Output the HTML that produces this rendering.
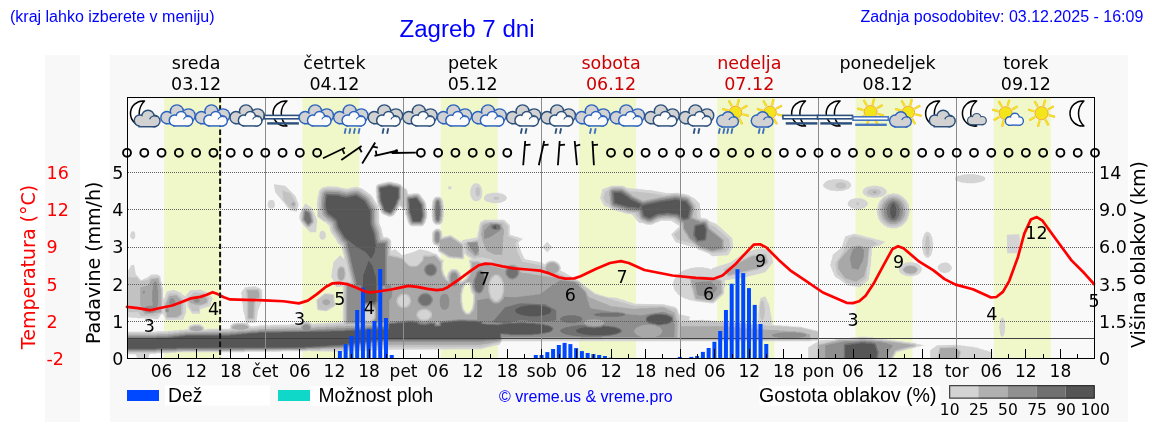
<!DOCTYPE html>
<html><head><meta charset="utf-8"><title>Zagreb 7 dni</title>
<style>
html,body{margin:0;padding:0;background:#fff;width:1152px;height:443px;overflow:hidden}
svg{display:block}
.dv{font-family:"DejaVu Sans",sans-serif}
.ls{font-family:"Liberation Sans",Arial,sans-serif}
</style></head><body>
<svg width="1152" height="443" viewBox="0 0 1152 443">
<defs><clipPath id="plotclip"><rect x="127" y="160" width="968" height="199"/></clipPath></defs>
<rect x="0" y="0" width="1152" height="443" fill="#ffffff"/>
<rect x="45" y="55" width="35" height="367" fill="#f8f8f8"/>
<rect x="110" y="55" width="1018" height="367" fill="#f8f8f8"/>
<rect x="127" y="97" width="968" height="262" fill="#f9f9f9"/>
<rect x="164.1" y="97" width="57" height="262" fill="#f0f8c9"/>
<rect x="302.39" y="97" width="57" height="262" fill="#f0f8c9"/>
<rect x="440.67" y="97" width="57" height="262" fill="#f0f8c9"/>
<rect x="578.96" y="97" width="57" height="262" fill="#f0f8c9"/>
<rect x="717.24" y="97" width="57" height="262" fill="#f0f8c9"/>
<rect x="855.53" y="97" width="57" height="262" fill="#f0f8c9"/>
<rect x="993.81" y="97" width="57" height="262" fill="#f0f8c9"/>
<g clip-path="url(#plotclip)"><path fill="#d4d4d4" fill-rule="evenodd" d="M930.2 350.2 930.2 358.8 992.2 358.8 992.2 352.2 989.8 351.8 986.2 350.2 984.8 350.2 982.8 349.2 981.2 349.2 977.8 347.8 973.8 347.2 973.2 346.8 969.8 346.8 969.2 346.2 965.8 346.2 965.2 345.8 961.8 345.8 961.2 345.2 957.8 345.2 957.2 344.8 937.2 345.2ZM808.2 358.8 893.2 358.8 896.2 352.8 897.8 351.8 899.2 351.8 899.8 351.2 901.2 351.2 901.8 350.8 903.2 350.8 903.8 350.2 905.2 350.2 905.8 349.8 907.2 349.8 907.8 349.2 915.2 347.8 916.8 346.8 918.8 346.8 919.2 346.2 921.2 346.2 921.8 345.8 925.2 345.2 920.8 344.8 920.2 344.2 917.2 344.2 916.2 343.2 914.8 343.2 914.2 342.8 910.8 342.8 910.2 342.2 903.2 341.8 902.8 341.2 895.8 340.8 895.2 340.2 891.8 340.2 891.2 339.8 887.8 339.8 887.2 339.2 883.8 339.2 883.2 338.8 877.8 338.8 875.8 337.8 873.2 337.8 872.8 337.2 867.2 337.2 866.8 336.8 858.8 336.8 858.2 337.2 850.2 337.8 849.8 338.2 838.2 338.2 837.8 338.8 836.2 338.8 833.8 339.8 820.2 340.2 808.2 347.2ZM1002.2 317.2 1000.2 319.8 1000.2 320.8 999.8 321.2 999.8 325.2 999.2 325.8 999.2 328.8 999.8 329.2 999.8 332.8 1000.2 333.2 1000.2 334.8 1002.2 337.2 1004.2 334.8 1004.2 333.2 1004.8 332.8 1004.8 329.2 1005.2 328.8 1004.8 321.2 1003.8 318.8ZM186.2 302.2 186.8 302.8 186.8 304.8 186.2 305.2 185.8 304.8 185.8 302.8ZM334.2 294.8 331.8 293.8 324.8 293.2 316.2 299.8 317.2 309.8 317.8 310.2 319.8 310.2 320.2 310.8 326.8 311.2 334.2 306.8 335.2 305.8ZM466.8 283.8 468.8 283.8 469.8 284.8 469.8 287.8 470.2 288.2 470.8 291.2 471.8 293.2 473.2 294.8 473.2 302.2 472.8 302.8 472.8 305.2 472.2 305.8 472.2 307.2 471.2 309.8 468.8 312.8 466.8 312.8 464.2 309.8 463.2 307.2 463.2 305.8 462.8 305.2 462.8 302.8 462.2 302.2 462.2 293.8 462.8 293.2 462.8 291.2 463.2 290.8 463.2 289.2 464.2 287.8 464.2 286.8ZM461.2 280.8 461.8 280.2 462.2 280.8 461.8 281.2ZM127.2 272.2 127.2 317.2 130.2 317.2 130.8 317.8 136.8 317.8 137.2 318.2 144.8 318.2 145.2 318.8 153.8 318.8 154.2 319.2 158.2 319.2 160.8 314.8 162.8 313.8 166.2 320.2 183.2 319.8 184.2 317.8 184.2 316.8 185.2 315.2 185.2 314.2 186.2 312.8 186.2 305.2 186.8 304.8 187.8 307.2 192.2 313.8 200.2 313.8 200.2 309.8 201.2 308.8 202.8 308.8 206.2 307.2 209.2 306.8 210.2 306.2 210.8 305.2 211.2 302.2 212.8 298.2 207.2 292.2 200.8 289.8 190.2 290.2 185.2 296.2 182.8 294.8 180.2 292.2 178.2 291.8 176.8 290.8 172.8 289.8 172.2 290.2 167.2 291.2 165.2 295.2 165.2 296.2 163.8 298.8 163.2 298.2 163.2 288.8 162.8 288.2 162.8 286.8 162.2 286.2 162.2 284.8 161.8 284.2 161.8 282.8 160.8 280.2 160.8 277.8 159.8 275.8 156.8 274.2 150.8 274.8 147.8 277.2 141.2 280.2 135.8 274.2 134.2 264.8 131.2 265.2 130.8 265.8 129.8 268.2 128.8 269.2ZM944.8 262.2 944.2 262.8 940.8 263.2 938.2 265.8 937.8 266.8 937.8 268.8 940.8 272.2 945.2 273.2 945.8 272.8 948.8 272.2 951.2 269.8 951.8 268.8 951.8 266.8 948.8 263.2ZM898.8 267.8 898.8 270.2 899.2 270.8 899.2 271.8 901.8 274.2 907.2 276.2 913.2 276.2 913.8 275.8 916.8 275.2 919.2 273.8 921.2 271.8 921.2 270.8 921.8 270.2 921.8 267.8 919.2 264.8 916.8 263.2 913.8 262.8 913.2 262.2 907.2 262.2 906.8 262.8 905.2 262.8 903.8 263.8 901.8 264.2ZM770.2 250.2 759.8 248.2 759.2 248.8 753.8 249.8 751.8 250.8 746.2 251.8 731.2 261.8 729.2 262.8 712.2 268.2 711.8 269.2 710.8 269.2 708.8 268.2 704.2 267.8 703.8 267.2 695.2 267.2 694.8 267.8 691.8 267.8 691.2 268.2 689.8 268.2 689.2 268.8 685.2 269.8 681.2 271.8 677.8 274.2 674.8 278.2 673.2 282.2 673.2 286.2 673.8 286.8 673.8 288.2 675.2 291.2 676.2 291.8 677.8 294.2 681.2 296.8 685.2 298.8 686.2 298.8 689.8 300.2 694.2 300.8 694.8 301.2 696.8 301.2 697.2 301.8 700.8 301.8 701.2 302.2 704.8 302.2 705.2 302.8 708.8 302.8 709.2 303.2 713.8 303.2 724.2 293.8 724.2 288.8 725.2 286.2 725.2 282.2 724.8 281.8 724.8 280.8 725.2 280.2 730.2 279.8 730.8 279.2 733.2 279.2 733.8 278.8 736.8 278.8 737.2 278.2 740.2 278.2 740.8 277.8 743.2 277.8 743.8 277.2 746.2 277.2 746.8 276.8 748.2 276.8 748.8 276.2 750.2 276.2 750.8 275.8 752.2 275.8 752.8 275.2 754.2 275.2 754.8 274.8 756.2 274.8 756.8 274.2 758.2 274.2 758.8 273.8 760.2 273.8 760.8 273.2 762.2 273.2 762.8 272.8 765.2 272.2 773.2 262.2ZM547.2 241.8 542.2 247.2 547.2 252.2 552.2 247.2ZM1019.2 234.2 1006.8 234.8 1007.2 253.2 1018.2 253.2 1018.8 248.8 1019.2 248.2 1019.2 245.2 1019.8 244.8 1019.8 242.2 1020.2 241.8 1020.2 239.2 1019.8 238.8ZM853.8 233.8 853.2 234.2 851.8 234.2 849.8 235.2 848.2 235.2 847.8 235.8 845.2 236.2 841.8 247.2 832.8 254.8 831.8 259.8 831.2 260.2 831.2 261.8 830.8 262.2 830.8 263.8 830.2 264.2 830.2 265.8 831.2 267.2 831.2 268.2 832.2 269.8 832.2 270.8 833.8 273.2 833.8 274.2 834.8 276.2 837.2 278.2 839.2 279.2 847.2 285.2 859.8 287.2 868.8 279.8 869.2 274.8 869.8 274.2 869.8 270.8 870.2 270.2 870.2 267.2 870.8 266.8 870.8 262.2 871.2 261.8 871.2 256.2 871.8 255.8 871.8 250.2 872.2 249.8 872.2 247.8 873.8 246.8 875.8 246.8 876.2 246.2 879.8 245.8 885.2 241.8 882.8 241.2 882.2 240.8 880.8 240.8 878.8 239.8 875.2 239.2 873.2 238.2 871.8 238.2 871.2 237.8 869.8 237.8 869.2 237.2 867.8 237.2 867.2 236.8 865.8 236.8 865.2 236.2 863.8 236.2 863.2 235.8 861.8 235.8 861.2 235.2ZM926.8 231.8 924.2 233.8 924.2 234.8 922.8 237.8 922.8 239.2 922.2 239.8 922.2 249.8 922.8 250.2 923.2 253.2 924.8 256.2 926.8 257.8 928.8 257.8 928.8 257.2 930.8 255.8 932.2 252.2 932.2 250.8 932.8 250.2 932.8 246.8 933.2 246.2 933.2 242.8 932.8 242.2 932.2 237.2 931.2 235.8 930.8 233.8 929.2 232.8 928.8 231.8ZM132.2 231.2 130.8 232.8 130.8 233.8 130.2 234.2 130.2 236.8 132.2 239.2 133.8 239.2 135.2 237.2 135.2 233.2 133.8 231.2ZM321.8 230.8 320.8 231.2 319.8 232.8 319.2 236.2 320.8 239.2 323.2 239.8 324.2 239.2 325.8 237.2 325.8 233.8 324.2 231.2ZM378.2 207.2 378.8 206.8 379.2 207.8 378.8 208.2ZM377.2 204.8 377.8 204.2 378.2 204.8 377.8 205.2ZM376.8 203.8 377.2 203.2 377.8 203.8 377.2 204.2ZM305.2 203.2 303.2 207.2 301.2 209.8 301.2 210.8 299.8 213.8 299.2 218.2 300.2 219.8 300.8 221.8 302.8 224.8 310.2 232.2 316.2 232.2 317.2 219.8 315.8 217.2 315.8 216.2 314.8 214.8 314.8 213.8 313.2 211.2 313.2 210.2 312.2 208.2ZM270.8 199.8 270.2 200.2 269.2 200.2 268.2 201.2 267.8 203.8 267.2 204.2 267.8 204.8 267.8 206.8 269.2 208.2 271.8 208.8 272.2 208.2 273.2 208.2 274.8 206.8 274.8 204.8 275.2 204.2 274.8 203.8 274.2 201.2 273.2 200.2ZM847.8 202.8 847.8 204.8 848.2 205.8 851.8 208.2 855.2 208.8 855.8 209.2 859.8 209.2 860.2 208.8 861.8 208.8 862.2 208.2 864.8 207.8 866.8 205.8 867.2 205.8 867.8 204.8 867.8 202.8 867.2 201.8 864.2 199.2 863.2 199.2 861.2 198.2 854.2 198.2 853.8 198.8 851.2 199.2 849.2 200.8ZM435.8 196.8 433.8 198.2 432.2 201.8 432.2 204.2 431.8 204.8 431.8 217.2 432.2 217.8 432.2 220.2 433.8 223.2 435.8 224.8 439.8 224.8 441.8 223.2 443.2 220.2 443.2 217.8 443.8 217.2 443.8 204.8 443.2 204.2 443.2 201.8 441.8 198.2 439.8 196.8ZM883.8 195.8 884.2 195.2 884.8 195.8 884.2 196.2ZM483.8 197.2 484.2 199.8 486.8 201.8 489.8 202.2 490.2 202.8 492.8 202.8 493.2 203.2 500.8 202.8 505.2 200.8 506.8 198.8 506.8 197.2 504.8 194.8 503.8 194.8 502.8 193.8 499.2 193.2 498.8 192.8 491.8 192.8 491.2 193.2 487.8 193.8 485.8 194.8ZM448.8 186.2 447.8 188.2 448.8 189.2 450.8 189.2 451.8 188.2 451.2 186.8 450.8 186.2ZM863.2 189.8 862.8 190.8 862.8 192.8 863.2 193.8 865.2 195.8 866.2 195.8 867.2 196.8 871.2 197.2 871.8 197.8 877.8 197.8 878.2 197.2 881.8 196.8 883.2 195.8 884.2 196.2 879.8 200.8 877.8 204.8 877.2 208.2 876.8 208.8 876.8 212.8 877.2 213.2 877.2 215.2 877.8 215.8 878.2 218.2 880.2 221.8 884.2 225.8 885.8 226.2 886.8 227.2 889.8 227.8 890.2 228.2 896.8 228.2 902.2 225.8 906.2 221.8 908.2 218.2 908.2 217.2 909.2 215.2 909.2 213.2 909.8 212.8 909.8 208.8 909.2 208.2 908.8 204.8 906.8 200.8 903.8 197.8 903.8 197.2 898.8 194.2 897.8 194.2 897.2 193.8 894.8 193.8 894.2 193.2 892.2 193.2 891.8 193.8 887.8 194.2 885.8 195.8 884.8 195.8 884.2 195.2 885.8 194.2 886.8 192.2 886.8 191.2 885.8 189.2 881.8 186.8 878.2 186.2 877.8 185.8 871.8 185.8 871.2 186.2 867.2 186.8 866.2 187.8 865.2 187.8ZM602.2 189.2 601.2 194.2 600.8 194.8 600.8 196.2 600.2 196.8 600.2 198.2 604.2 205.8 606.2 206.8 607.2 206.8 610.2 208.2 611.2 209.2 613.8 210.2 615.2 210.2 617.2 211.2 618.8 211.2 619.2 211.8 622.2 212.2 626.2 213.8 631.8 214.2 638.8 222.8 643.2 223.2 646.8 224.8 651.8 224.8 655.8 222.8 659.2 221.8 660.8 220.8 671.2 220.8 679.8 226.2 671.2 234.2 675.2 241.8 676.8 242.8 678.2 242.8 680.2 243.8 681.8 243.8 683.8 244.8 685.2 244.8 687.2 245.8 688.8 245.8 690.8 246.8 695.8 247.8 699.2 250.2 700.2 250.2 708.2 253.2 712.2 256.2 728.2 255.2 733.2 246.2 732.2 238.2 719.2 226.2 718.8 226.2 716.2 223.8 709.8 221.2 706.8 218.8 705.8 218.8 705.2 218.2 701.8 218.2 700.8 217.2 699.8 203.8 693.8 197.8 691.8 197.2 689.2 195.2 688.2 195.2 686.2 194.2 679.2 193.2 678.8 192.8 666.2 193.2 665.8 192.8 663.8 192.8 663.2 192.2 661.2 192.2 660.8 191.8 658.2 191.8 657.8 191.2 655.8 191.2 655.2 190.8 652.8 190.8 652.2 190.2 643.8 189.8 643.2 189.2 638.8 189.2 638.2 188.8 633.8 188.8 633.2 188.2 628.8 188.2 628.2 187.8 626.2 187.8 625.2 186.8 622.8 185.8 611.8 185.8ZM273.8 184.2 275.2 192.2 286.2 205.8 286.2 206.2 288.8 208.8 288.8 209.2 289.8 210.2 290.8 210.2 291.2 210.8 293.2 210.8 293.8 211.2 296.8 211.8 298.8 204.2 297.8 202.8 297.8 201.8 296.8 200.2 296.8 199.2 295.2 195.8 285.2 185.8ZM475.2 183.2 473.2 184.2 471.2 186.8 471.2 187.8 470.2 189.8 470.2 194.8 471.8 198.8 473.2 200.2 475.2 201.2 477.2 201.2 479.2 200.2 480.8 198.8 481.8 196.8 481.8 195.2 482.2 194.8 482.2 189.8 481.8 189.2 481.2 186.8 479.2 184.2 477.2 183.2ZM127.2 354.2 135.2 354.2 136.2 355.2 137.2 358.8 148.2 358.8 148.8 355.8 149.8 353.8 156.2 353.8 156.8 353.2 168.8 353.2 169.2 352.8 176.2 352.8 176.8 352.2 244.2 352.2 244.8 351.8 280.8 351.8 281.2 351.2 306.8 351.2 307.2 350.8 310.2 350.8 310.8 351.2 345.8 351.8 346.2 351.2 368.2 350.8 368.8 350.2 379.2 350.2 379.8 349.8 481.2 349.2 481.8 348.8 483.2 348.8 483.8 348.2 485.2 348.2 485.8 347.8 487.2 347.8 487.8 347.2 489.2 347.2 489.8 346.8 491.2 346.8 491.8 346.2 499.2 344.8 500.2 344.2 500.2 343.2 502.2 341.2 811.2 341.2 811.8 340.8 817.2 340.8 818.2 340.2 818.8 339.2 818.8 332.2 818.2 331.2 815.8 330.2 814.2 330.2 813.8 329.8 812.2 329.8 809.8 328.8 807.8 328.8 807.2 328.2 805.8 328.2 805.2 327.8 803.8 327.8 801.2 326.8 789.2 326.2 788.8 325.8 781.8 325.8 781.2 325.2 774.2 325.2 773.8 324.8 772.2 324.8 771.8 324.2 772.2 323.2 772.2 321.2 771.8 320.8 771.2 315.2 770.8 314.8 770.8 312.8 770.2 312.2 769.8 306.8 769.2 306.2 769.2 304.8 767.2 301.2 767.2 300.2 765.2 296.2 760.2 298.2 760.2 300.2 759.8 300.8 759.2 305.2 758.8 305.8 758.8 312.8 758.2 313.2 758.2 319.8 757.8 320.2 757.8 323.8 757.2 324.2 755.8 324.2 755.2 323.8 747.8 323.8 747.2 323.2 741.8 323.2 741.2 322.8 730.2 322.2 729.8 321.8 724.2 321.8 723.8 321.2 717.2 321.2 716.8 320.8 710.8 320.8 710.2 320.2 703.8 320.2 703.2 319.8 689.8 320.2 689.2 319.8 689.2 318.8 690.2 316.8 679.2 314.2 677.2 308.8 674.8 306.8 673.8 306.8 673.2 306.2 669.2 305.8 668.8 305.2 666.8 305.2 664.2 304.2 634.8 303.8 634.2 303.2 633.2 303.2 631.2 302.2 629.8 302.2 629.2 301.8 628.2 301.8 621.8 299.2 620.2 299.2 616.8 297.8 607.8 297.2 607.2 296.8 605.8 296.8 605.2 296.2 604.2 296.2 602.2 295.2 600.8 295.2 597.2 293.8 595.8 293.8 581.8 283.2 579.2 280.8 575.8 279.2 574.8 278.2 572.2 277.2 571.2 276.2 566.2 273.8 565.2 272.8 560.8 270.8 560.2 270.2 560.8 269.2 560.8 267.2 559.2 263.8 555.8 261.2 554.8 261.2 554.2 260.8 550.2 260.8 546.8 262.2 544.8 264.2 540.8 262.2 525.2 259.2 524.2 258.2 520.8 251.2 520.8 250.2 519.2 246.8 519.2 245.2 518.2 243.2 519.2 241.8 523.2 238.8 520.8 238.2 517.2 236.8 515.8 236.8 512.2 235.2 510.8 235.2 509.8 234.2 509.8 225.2 504.2 219.8 484.2 219.8 482.2 221.2 480.8 221.8 479.8 223.2 477.2 236.8 475.8 237.8 473.8 237.8 473.2 238.2 471.2 238.2 470.8 238.8 463.8 239.8 463.2 240.2 462.2 240.2 462.2 241.2 461.8 241.8 460.8 241.8 451.2 235.2 448.8 235.2 448.2 235.8 444.8 236.2 442.8 237.2 442.2 236.8 442.2 232.8 441.8 232.2 441.8 231.2 439.2 228.8 435.8 228.8 432.8 231.2 432.8 232.2 432.2 232.8 432.2 241.8 432.8 242.2 432.8 243.2 434.8 245.2 437.2 245.8 437.8 246.2 438.2 251.2 439.8 252.8 441.2 253.2 442.2 254.2 443.8 254.8 444.8 255.8 449.2 258.2 452.2 258.2 452.8 258.8 458.2 258.8 458.8 259.2 463.2 259.2 464.2 258.2 464.2 254.2 464.8 253.8 465.8 255.2 471.8 259.2 471.2 259.8 468.8 259.8 469.2 262.8 469.8 263.2 469.8 269.2 469.2 269.8 468.8 273.2 465.8 278.2 462.8 280.8 461.8 280.2 461.8 279.2 461.2 278.8 461.2 276.2 460.8 275.8 460.2 272.8 456.8 269.2 455.2 269.2 454.8 268.8 451.2 269.2 448.2 272.2 447.2 274.8 447.2 276.2 446.2 277.2 443.8 273.2 443.8 271.8 442.8 269.2 442.8 263.2 443.2 262.8 443.8 259.8 441.8 259.8 436.2 253.8 434.8 253.8 427.2 250.8 419.8 249.2 414.2 251.8 402.2 255.2 395.2 249.2 391.8 250.8 391.2 250.2 391.2 241.2 390.2 239.2 387.2 237.2 383.8 237.2 382.8 235.2 382.8 233.2 382.2 232.8 381.8 229.2 379.2 222.8 379.2 210.8 378.8 210.2 378.8 208.8 379.2 208.2 379.8 208.8 381.2 212.8 382.8 214.2 388.8 216.8 391.2 216.8 391.8 216.2 392.8 216.2 394.8 214.2 397.8 209.8 398.8 207.2 400.2 206.2 402.2 208.2 404.8 209.8 405.2 210.8 405.2 214.2 405.8 214.8 407.8 221.8 409.2 224.8 411.8 226.2 421.8 226.2 423.8 225.2 425.8 221.8 425.8 220.8 427.2 217.2 427.2 211.8 426.8 211.2 426.2 203.8 424.8 200.8 419.8 194.2 417.8 193.2 413.2 193.2 412.8 193.8 409.8 193.8 408.8 194.2 407.8 193.2 407.2 189.8 404.8 187.8 403.2 187.2 400.8 184.2 399.8 184.2 397.8 183.2 396.2 183.2 395.8 182.8 391.8 182.2 391.2 181.8 387.2 181.8 386.8 182.2 382.8 182.8 382.2 183.2 380.8 183.2 380.2 183.8 377.8 184.2 376.2 185.8 376.2 186.8 375.8 187.2 375.8 192.2 376.2 192.8 376.2 198.2 376.8 198.8 376.8 201.8 377.2 202.2 377.2 203.2 376.8 203.8 373.8 199.2 373.2 197.8 370.2 194.2 361.8 188.2 359.2 187.8 358.8 187.2 355.2 186.8 354.8 187.2 352.8 187.2 352.2 187.8 350.2 187.8 349.8 188.2 345.8 188.8 345.2 188.2 343.2 188.2 342.8 187.8 338.8 187.2 338.2 186.8 327.2 186.2 326.8 186.8 322.8 187.2 320.8 188.8 318.8 191.2 318.2 195.2 317.8 195.8 317.8 197.8 317.2 198.2 317.2 202.8 316.8 203.2 316.8 206.2 317.2 206.8 317.2 216.8 323.8 221.8 325.2 222.2 329.2 225.8 330.2 230.8 331.2 232.8 335.8 239.2 337.2 242.2 338.8 244.2 341.8 246.8 342.2 250.8 342.8 251.2 342.8 252.8 343.8 255.2 343.8 257.2 344.2 257.8 343.8 258.8 340.2 255.2 333.2 262.2 332.8 267.2 332.2 267.8 332.2 270.8 331.8 271.2 331.8 274.2 331.2 274.8 331.2 276.8 333.8 281.2 333.8 282.2 336.2 287.2 341.2 286.8 341.8 286.2 342.8 286.8 342.8 321.8 342.2 322.2 335.8 322.2 335.2 322.8 325.8 322.8 325.2 323.2 315.8 323.2 315.2 323.8 311.8 323.8 308.8 321.8 303.8 321.8 301.8 322.8 300.2 324.2 290.8 324.2 290.2 324.8 271.2 324.8 270.8 325.2 259.2 325.2 258.8 325.8 250.8 326.2 247.8 323.8 249.2 322.8 253.8 322.8 254.2 322.2 256.2 322.2 258.2 309.8 259.2 308.2 259.2 307.2 262.2 300.8 262.2 290.2 259.2 287.8 257.8 287.8 255.2 286.2 253.2 286.2 252.8 286.8 248.2 286.8 247.8 287.2 245.2 287.2 241.2 292.2 241.2 294.2 241.8 294.8 241.8 298.8 242.2 299.2 242.2 303.2 242.8 303.8 242.8 307.8 243.2 308.2 243.2 311.2 243.8 311.8 243.8 313.2 244.8 315.8 244.8 317.8 245.2 318.2 245.2 319.8 246.2 322.2 245.8 323.2 244.8 322.8 235.8 322.8 235.2 323.2 233.8 323.2 231.8 324.2 230.2 325.8 230.2 327.8 229.2 328.8 207.8 328.8 207.2 329.2 204.8 329.2 204.2 328.8 204.2 327.2 201.2 324.8 200.2 324.8 199.8 324.2 193.2 324.2 192.8 324.8 190.2 325.2 188.2 327.2 188.2 328.8 187.8 329.2 184.8 329.2 184.2 329.8 179.2 329.8 178.8 330.2 173.8 330.2 173.2 330.8 168.2 330.8 167.8 331.2 156.8 331.2 156.2 331.8 127.2 331.8ZM823.2 184.2 823.2 186.2 825.8 188.8 826.8 188.8 827.8 189.8 829.2 189.8 831.2 190.8 835.2 190.8 835.8 191.2 843.2 190.8 848.8 188.8 851.2 186.2 851.2 184.2 849.2 181.8 846.2 180.2 844.8 180.2 842.2 179.2 832.2 179.2 831.8 179.8 828.2 180.2 826.2 181.2ZM955.2 177.8 955.2 179.8 957.2 181.2 959.8 181.8 960.2 182.2 961.8 182.2 962.2 182.8 965.2 182.8 965.8 183.2 975.2 183.2 975.8 182.8 978.2 182.8 978.8 182.2 980.2 182.2 980.8 181.8 983.2 181.2 985.2 179.8 985.2 177.8 983.2 176.2 982.2 176.2 980.2 175.2 978.8 175.2 978.2 174.8 975.8 174.8 975.2 174.2 965.8 174.2 965.2 174.8 962.2 174.8 961.8 175.2 958.2 175.8Z"/>
<path fill="#c2c2c2" fill-rule="evenodd" d="M939.2 347.8 937.2 358.8 959.2 358.8 959.8 358.2 960.2 355.2 961.2 353.2 961.2 351.8 955.8 346.8 947.8 346.8 947.2 347.2 939.8 347.2ZM817.2 358.8 892.2 358.8 895.2 352.2 896.2 351.2 898.8 350.8 899.2 350.2 900.8 350.2 901.2 349.8 902.8 349.8 903.2 349.2 904.8 349.2 905.2 348.8 906.8 348.8 907.2 348.2 908.8 348.2 909.2 347.8 910.8 347.8 911.2 347.2 912.8 347.2 913.2 346.8 914.8 346.8 916.2 345.8 916.2 344.8 913.8 343.8 910.2 343.8 909.8 343.2 902.8 342.8 902.2 342.2 895.2 341.8 894.8 341.2 891.2 341.2 890.8 340.8 887.2 340.8 886.8 340.2 883.2 340.2 882.8 339.8 877.2 339.8 876.8 339.2 874.8 339.2 874.2 338.8 871.8 338.8 871.2 338.2 865.8 338.2 865.2 337.8 860.2 337.8 859.8 338.2 851.8 338.8 851.2 339.2 838.8 339.2 838.2 339.8 836.8 339.8 834.2 340.8 832.2 340.8 829.8 341.8 827.8 341.8 827.2 342.2 825.8 342.2 825.2 342.8 817.8 344.2 817.2 344.8ZM417.8 313.8 420.2 311.2 422.2 310.2 426.2 310.2 428.2 311.2 430.8 313.8 430.8 315.8 427.8 318.8 426.8 319.2 424.8 319.2 424.2 319.8 423.8 319.2 421.8 319.2 420.8 318.8 417.8 315.8ZM367.2 306.2 370.2 306.2 371.2 306.8 373.2 308.8 374.2 311.2 374.2 316.2 373.8 316.8 373.8 317.8 373.2 318.8 370.2 321.2 367.2 321.2 364.2 318.8 363.2 316.2 363.2 311.2 363.8 310.8 363.8 309.8 364.2 308.8ZM761.8 300.2 760.2 303.2 760.2 305.8 759.8 306.2 759.8 314.2 760.2 314.8 760.2 317.2 761.2 318.8 761.2 319.8 761.8 320.2 762.8 320.2 763.8 318.8 763.8 317.8 764.2 317.2 764.2 314.8 764.8 314.2 764.8 306.2 764.2 305.8 764.2 303.2 763.8 302.8 763.8 301.8 762.8 300.2ZM403.2 294.8 406.2 295.2 409.2 298.2 409.2 299.8 409.8 300.2 409.2 303.2 406.2 306.2 404.8 306.2 404.2 306.8 401.2 306.2 398.2 303.2 398.2 302.2 397.8 301.8 398.2 298.8 401.8 295.2 402.8 295.2ZM333.2 295.2 325.2 294.2 317.2 300.2 317.2 302.2 317.8 302.8 317.8 306.8 318.2 307.2 318.2 309.2 326.2 310.2 334.2 305.2 334.2 303.2 333.8 302.8ZM169.2 293.2 166.2 299.2 166.2 300.2 164.2 303.8 164.8 312.2 165.8 314.2 165.8 316.8 166.2 317.2 166.2 318.2 178.2 318.2 183.2 314.2 183.2 299.2 177.2 293.8ZM194.2 292.2 188.2 297.2 188.2 302.2 189.2 303.8 189.2 305.8 192.2 311.2 199.2 311.2 199.2 306.8 200.8 305.8 202.2 305.8 202.8 305.2 204.2 305.2 204.8 304.8 207.2 304.2 208.2 302.2 208.2 300.8 209.2 298.2 204.2 293.2ZM247.2 288.8 246.2 289.2 245.8 290.2 245.8 292.2 246.2 292.8 246.2 296.8 246.8 297.2 246.8 318.2 247.2 319.2 248.2 319.8 253.2 319.8 254.2 319.2 254.8 318.2 255.8 300.2 260.2 298.2 260.8 297.2 260.2 292.2 259.8 291.8 259.2 289.2 258.2 288.8ZM466.2 282.8 469.2 282.8 470.8 284.2 471.2 285.2 471.2 288.8 471.8 289.2 471.8 290.2 473.2 293.2 474.2 294.2 474.2 302.8 473.8 303.2 473.2 307.8 472.2 310.2 469.2 313.8 466.2 313.8 463.2 310.2 462.2 307.8 462.2 306.2 461.8 305.8 461.8 303.2 461.2 302.8 461.2 293.2 461.8 292.8 461.8 290.8 462.2 290.2 462.2 288.8 463.2 287.2 463.2 286.2ZM127.2 277.2 127.2 312.2 138.2 312.2 141.2 316.2 156.2 316.2 158.8 313.8 162.2 313.2 162.2 288.8 161.8 288.2 161.8 286.8 161.2 286.2 161.2 284.8 160.8 284.2 160.8 282.8 160.2 282.2 159.2 277.2 151.2 277.2 147.2 280.2 142.2 280.8 141.8 281.2 140.2 281.2 136.8 277.2ZM690.2 277.8 689.2 279.8 689.8 280.2 691.2 287.8 692.2 289.8 693.8 297.2 694.8 299.2 696.2 300.2 712.2 302.2 715.8 299.8 719.8 295.8 720.2 295.8 723.2 292.2 722.2 281.2 721.8 280.2 720.2 279.2 716.8 278.8 716.2 278.2 714.2 278.2 713.8 277.8 711.8 277.8 711.2 277.2 709.2 277.2 708.8 276.8 706.8 276.8 706.2 276.2 695.2 276.8 694.8 277.2 691.2 277.2ZM495.2 275.8 497.2 275.8 500.8 279.2 502.8 284.8 502.8 291.8 502.2 292.2 502.2 293.8 501.8 294.2 501.2 296.8 497.2 300.8 495.2 300.8 491.2 296.8 491.2 295.8 490.2 293.8 490.2 292.2 489.8 291.8 489.8 284.8 490.2 284.2 490.8 281.2 491.8 279.2ZM339.8 266.2 337.2 269.2 337.2 271.2 336.8 271.8 336.8 275.8 337.2 276.2 337.2 278.2 337.8 279.2 339.8 281.2 342.8 281.2 345.2 278.2 345.2 276.2 345.8 275.8 345.8 271.8 345.2 271.2 345.2 269.2 344.8 268.2 342.8 266.2ZM902.2 269.2 902.2 270.2 905.8 273.8 909.2 274.2 909.8 274.8 913.2 274.2 915.8 273.2 918.2 270.2 918.2 269.2 915.8 266.2 913.2 265.2 911.2 265.2 910.8 264.8 905.8 265.8ZM768.8 261.8 767.2 257.8 767.2 256.2 766.2 254.2 765.2 253.8 752.2 254.8 724.8 268.8 723.8 270.2 726.8 275.8 728.2 276.8 729.2 276.8 729.8 276.2 731.2 276.2 731.8 275.8 733.2 275.8 733.8 275.2 735.2 275.2 735.8 274.8 737.2 274.8 737.8 274.2 739.2 274.2 739.8 273.8 741.2 273.8 743.8 272.8 745.8 272.8 748.2 271.8 750.2 271.8 750.8 271.2 758.2 269.8 767.8 263.8ZM853.8 236.2 848.8 238.2 843.2 251.8 835.8 262.8 835.2 264.8 835.8 265.2 835.8 267.2 836.2 267.8 836.8 272.8 837.2 273.2 837.2 274.2 838.8 275.8 839.2 275.8 847.2 282.8 858.2 284.2 866.2 278.2 869.8 247.8 870.8 246.8 877.8 243.8 873.2 240.8 870.8 239.8 866.8 239.2 864.2 238.2 862.2 238.2 859.8 237.2 857.8 237.2 857.2 236.8ZM927.2 235.2 926.2 236.8 925.8 240.2 925.2 240.8 925.2 249.2 925.8 249.8 925.8 252.2 926.2 252.8 926.2 253.8 926.8 254.8 927.8 255.2 928.8 254.2 929.2 250.8 929.8 250.2 929.8 240.2 929.2 239.8 928.8 236.2ZM433.8 231.8 433.8 232.8 433.2 233.2 433.2 241.2 433.8 241.8 433.8 242.8 435.2 244.2 436.2 244.8 438.2 244.8 438.8 245.2 439.2 250.8 440.2 251.8 441.8 252.2 442.8 253.2 444.2 253.8 445.2 254.8 449.8 257.2 452.8 257.2 453.2 257.8 458.8 257.8 459.2 258.2 462.8 258.2 463.2 257.8 463.2 244.8 462.2 243.8 450.8 236.2 449.2 236.2 448.8 236.8 445.2 237.2 443.2 238.2 441.8 238.2 441.2 237.8 441.2 233.2 440.8 232.8 440.8 231.8 438.8 229.8 436.2 229.8ZM303.8 208.2 302.2 209.8 302.2 211.2 301.8 211.8 301.2 220.8 306.8 227.2 309.8 227.2 314.2 222.8 314.2 219.2 313.8 218.8 312.8 213.2 312.2 212.8 312.2 211.8 310.2 209.8 307.2 208.2ZM856.8 202.2 856.2 202.8 856.2 204.2 857.2 205.2 858.2 205.2 858.2 204.8 859.2 204.2 859.2 203.2 858.2 202.2ZM435.8 197.8 433.8 200.2 433.8 201.2 433.2 201.8 433.2 204.2 432.8 204.8 432.8 217.2 433.2 217.8 433.2 220.2 434.2 222.2 435.8 223.8 439.8 223.8 441.2 222.2 442.2 220.2 442.2 217.8 442.8 217.2 442.8 204.8 442.2 204.2 442.2 201.8 441.2 199.2 439.8 197.8ZM493.2 198.2 493.2 198.8 494.8 199.8 497.8 199.8 499.2 198.8 498.8 197.2 497.8 196.8 494.8 196.8ZM891.8 195.2 891.2 195.8 889.2 195.8 886.2 197.8 885.2 197.8 883.2 199.2 881.2 201.8 881.2 202.8 879.8 204.8 879.2 207.8 878.8 208.2 878.8 213.8 880.8 219.2 884.8 223.8 889.8 226.2 896.2 226.2 896.8 225.8 898.2 225.8 900.2 224.2 901.2 224.2 905.8 219.2 907.8 213.8 907.8 208.2 907.2 207.8 906.8 204.8 903.8 199.8 903.2 199.8 901.2 197.8 897.2 195.8ZM282.2 190.2 282.2 192.2 282.8 192.8 282.8 196.8 283.2 197.2 283.2 199.2 289.2 207.2 295.2 209.2 296.2 203.2 293.8 198.8 292.8 197.8 292.2 196.2 291.2 195.2 290.8 193.8 288.2 192.2 287.2 192.2ZM866.8 192.2 867.2 193.2 869.8 195.2 871.8 195.2 872.2 195.8 878.2 195.2 880.8 193.2 880.8 191.2 879.2 189.8 878.2 189.2 876.2 189.2 875.8 188.8 869.8 189.2 868.2 190.2ZM127.2 352.8 156.2 352.8 156.8 352.2 170.8 352.2 171.2 351.8 181.8 351.8 182.2 351.2 244.8 351.2 245.2 350.8 281.2 350.8 281.8 350.2 320.2 350.2 320.8 349.8 344.8 349.8 345.2 349.2 353.8 349.2 354.2 348.8 362.8 348.8 363.2 348.2 371.8 348.2 372.2 347.8 380.8 347.8 381.2 347.2 481.2 347.2 481.8 346.8 483.2 346.8 483.8 346.2 485.2 346.2 485.8 345.8 487.2 345.8 487.8 345.2 489.2 345.2 489.8 344.8 491.2 344.8 491.8 344.2 499.2 342.8 500.2 342.2 502.8 339.2 579.2 339.2 579.8 339.8 602.8 339.8 603.2 339.2 677.8 339.2 678.8 338.8 679.8 340.2 810.8 340.2 811.2 339.8 817.2 339.8 817.8 339.2 817.8 332.2 815.8 331.2 814.2 331.2 813.8 330.8 812.2 330.8 809.8 329.8 807.8 329.8 807.2 329.2 805.8 329.2 805.2 328.8 803.8 328.8 801.2 327.8 796.8 327.8 796.2 327.2 789.2 327.2 788.8 326.8 781.8 326.8 781.2 326.2 774.2 326.2 773.8 325.8 765.8 325.8 765.2 325.2 747.8 324.8 747.2 324.2 741.8 324.2 741.2 323.8 730.2 323.2 729.8 322.8 724.2 322.8 723.8 322.2 717.2 322.2 716.8 321.8 710.8 321.8 710.2 321.2 703.8 321.2 703.2 320.8 685.8 321.2 685.2 321.8 680.2 321.8 679.8 322.2 679.2 321.8 679.2 317.8 678.8 317.2 676.2 309.2 675.2 308.8 671.8 308.2 669.8 307.2 668.2 307.2 667.8 306.8 666.2 306.8 663.8 305.8 633.8 305.8 633.2 305.2 629.8 304.8 627.8 303.8 626.2 303.8 624.2 302.8 620.8 302.2 618.8 301.2 615.2 300.8 611.8 299.2 610.2 299.2 609.8 298.8 608.8 298.8 606.8 297.8 605.2 297.8 601.8 296.2 600.2 296.2 596.8 294.8 595.2 294.8 581.2 284.2 578.8 281.2 570.8 279.2 567.2 277.2 566.2 277.2 562.8 275.2 561.8 275.2 557.2 272.8 558.2 272.2 559.8 269.2 559.8 267.2 558.2 264.2 554.2 261.8 550.2 261.8 547.2 263.2 546.2 264.2 544.8 267.2 540.8 265.2 539.2 265.2 538.8 264.8 536.8 264.8 536.2 264.2 534.2 264.2 533.8 263.8 531.8 263.8 531.2 263.2 529.2 263.2 528.8 262.8 526.8 262.8 526.2 262.2 522.2 261.8 517.2 251.8 516.2 246.8 515.8 246.2 515.8 244.8 515.2 244.2 515.2 243.2 518.2 240.2 516.2 239.2 513.8 238.8 512.2 237.8 509.8 237.2 507.8 235.8 507.8 226.2 503.2 221.8 485.2 221.8 482.2 223.2 481.2 224.8 481.2 225.8 480.2 227.8 478.8 238.8 477.8 239.8 476.2 239.8 475.8 240.2 474.2 240.2 471.8 241.2 467.8 241.2 465.8 242.8 463.8 243.2 466.8 253.8 473.8 258.2 475.8 258.2 476.2 257.8 483.2 257.2 483.8 257.8 491.2 259.2 492.2 259.8 493.2 261.2 492.8 261.8 488.2 261.8 487.8 262.2 480.8 262.2 478.2 260.8 470.2 260.8 470.2 262.2 470.8 262.8 470.8 269.8 470.2 270.2 469.8 273.8 466.8 278.8 465.2 280.2 460.8 283.2 459.8 282.8 460.2 281.8 459.8 274.8 459.2 274.2 459.2 273.2 456.2 270.2 451.8 270.2 449.2 272.8 448.2 275.2 448.2 279.8 447.2 280.2 445.8 278.8 442.8 273.8 442.8 272.2 441.8 269.8 441.8 262.8 442.2 262.2 442.2 260.8 440.8 260.8 437.2 256.8 437.2 256.2 435.2 254.8 431.8 254.8 431.2 255.2 424.2 255.2 423.8 255.8 422.8 255.8 422.8 258.8 422.2 259.2 422.2 260.2 417.2 265.2 416.2 265.2 415.8 265.8 411.2 265.8 410.8 265.2 409.2 265.2 404.2 260.2 403.8 257.8 402.2 257.8 401.8 257.2 400.2 257.2 397.8 256.2 395.8 256.2 395.2 255.8 391.8 255.2 389.8 254.2 389.8 241.2 388.8 239.8 387.2 238.8 382.2 238.8 381.2 237.2 381.2 234.8 380.8 234.2 380.2 230.2 377.2 222.2 377.2 209.8 376.8 209.2 376.8 207.2 373.8 202.8 373.2 201.2 372.2 200.2 371.8 198.8 369.2 195.8 359.8 189.2 357.8 189.2 357.2 188.8 354.2 188.8 353.8 189.2 351.8 189.2 351.2 189.8 349.2 189.8 348.8 190.2 344.2 190.2 343.8 189.8 339.8 189.2 339.2 188.8 326.2 188.2 325.8 188.8 323.8 188.8 321.8 190.2 320.2 192.2 320.2 194.2 319.8 194.8 319.8 196.8 319.2 197.2 319.2 201.8 318.8 202.2 318.8 207.2 319.2 207.8 319.2 208.8 318.2 209.2 318.2 216.2 324.2 220.8 326.8 221.2 330.8 224.8 331.8 229.8 332.8 231.8 337.2 238.2 338.8 241.2 340.2 243.2 342.8 245.2 343.2 248.2 343.8 248.8 343.8 250.8 344.2 251.2 344.2 252.8 345.2 255.2 345.2 257.2 346.2 259.8 346.2 261.8 346.8 262.2 346.8 263.8 347.8 266.2 347.8 268.2 348.2 268.8 348.2 270.2 348.8 270.8 348.8 272.2 349.2 272.8 349.2 274.2 349.8 274.8 349.8 276.2 350.2 276.8 350.2 278.2 351.2 280.8 351.2 281.8 350.8 282.2 345.8 282.2 344.2 283.8 344.2 323.8 343.8 324.2 335.8 324.2 335.2 324.8 325.8 324.8 325.2 325.2 315.8 325.2 315.2 325.8 312.2 325.8 310.2 323.8 308.2 322.8 304.2 322.8 302.2 323.8 300.2 326.2 290.8 326.2 290.2 326.8 271.2 326.8 270.8 327.2 258.8 327.2 258.2 327.8 249.8 328.2 249.2 327.8 249.2 326.2 246.2 324.2 244.8 324.2 244.2 323.8 236.2 323.8 232.2 325.2 231.2 326.2 231.2 328.2 232.2 329.2 229.8 330.2 207.8 330.2 207.2 330.8 203.2 330.8 202.8 330.2 203.2 329.8 203.2 327.8 200.8 325.8 199.8 325.8 199.2 325.2 193.8 325.2 193.2 325.8 190.8 326.2 189.2 327.8 189.2 329.8 189.8 330.2 189.2 330.8 179.2 331.2 178.8 331.8 173.8 331.8 173.2 332.2 168.2 332.2 167.8 332.8 156.8 332.8 156.2 333.2 127.2 333.2ZM603.2 197.8 605.8 202.8 608.8 204.2 610.8 207.2 613.2 208.8 614.8 208.8 615.2 209.2 618.2 209.8 620.2 210.8 621.8 210.8 623.8 211.8 627.8 212.2 628.2 212.8 631.2 212.8 631.8 213.2 634.8 213.2 640.2 220.2 646.2 223.2 648.2 223.2 648.8 223.8 652.2 223.2 660.2 219.2 664.8 219.2 665.2 218.8 673.8 219.2 680.8 224.2 681.8 226.2 681.8 227.8 674.2 234.2 676.8 238.8 678.2 239.8 679.8 239.8 681.8 240.8 683.2 240.8 685.2 241.8 686.8 241.8 688.8 242.8 691.8 243.2 694.8 245.2 696.8 247.2 700.2 249.2 701.2 249.2 710.8 252.8 712.8 252.8 713.2 253.2 716.2 253.2 716.8 252.8 722.8 252.8 723.2 252.2 726.2 252.2 730.2 246.2 729.2 239.2 720.2 231.2 719.8 231.2 716.2 227.8 714.2 226.2 710.2 224.8 709.2 223.8 708.8 222.2 706.2 219.8 704.2 219.8 703.8 219.2 700.8 219.8 699.2 218.8 698.2 218.8 697.2 217.8 697.2 216.2 696.8 215.8 696.8 209.2 696.2 208.8 696.2 205.2 692.8 201.8 690.8 198.2 688.2 196.2 684.8 195.8 684.2 195.2 682.2 195.2 681.8 194.8 679.8 194.8 679.2 194.2 677.2 194.2 676.8 193.8 670.8 194.2 670.2 194.8 666.8 194.8 666.2 195.2 662.2 195.2 661.8 194.8 659.2 194.8 658.8 194.2 656.2 194.2 655.8 193.8 653.2 193.8 652.8 193.2 649.2 193.2 648.8 192.8 644.2 192.8 643.8 192.2 639.2 192.2 638.8 191.8 629.2 191.2 623.2 187.2 621.2 187.2 620.8 186.8 613.8 186.8 613.2 187.2 611.2 187.2 609.8 188.2 608.2 190.2 605.2 191.2ZM477.2 186.8 475.8 188.8 475.2 192.2 475.8 192.8 475.8 194.8 477.2 196.8 478.2 196.8 479.8 194.8 480.2 191.2 479.8 190.8 479.8 188.8 478.2 186.8ZM376.8 186.8 376.8 192.8 377.2 193.2 377.2 198.8 377.8 199.2 377.8 202.2 378.8 203.8 378.8 204.8 379.8 206.2 379.8 207.2 380.8 208.8 380.8 209.8 381.8 211.8 383.8 213.8 385.8 214.8 386.8 214.8 388.2 215.8 391.8 215.8 394.2 213.2 397.2 208.8 398.8 205.2 399.8 204.8 404.2 208.2 404.8 206.8 405.2 206.2 405.8 206.8 406.2 214.2 406.8 214.8 408.8 221.8 410.8 224.8 411.8 225.2 421.8 225.2 423.8 223.8 426.2 217.2 426.2 211.8 425.8 211.2 425.2 203.8 421.8 198.2 418.8 194.8 417.8 194.2 413.2 194.2 412.8 194.8 407.8 195.2 406.8 193.8 406.2 190.2 404.2 188.8 402.8 188.2 399.8 184.8 396.8 184.2 396.2 183.8 394.2 183.8 391.8 182.8 386.8 182.8 384.2 183.8 380.2 184.2 379.8 184.8 378.8 184.8ZM835.2 185.2 835.8 187.2 838.8 188.8 842.8 188.8 845.2 187.8 846.2 186.2 845.8 184.2 844.8 183.2 842.2 182.2 837.8 182.8 836.8 183.2Z"/>
<path fill="#a8a8a8" fill-rule="evenodd" d="M960.2 352.2 955.2 347.8 940.2 348.2 938.2 358.8 958.2 358.8ZM818.2 358.8 890.8 358.8 895.2 350.2 915.2 345.2 913.8 345.2 913.2 344.8 909.8 344.8 909.2 344.2 906.2 344.2 905.8 343.8 902.2 343.8 901.8 343.2 898.8 343.2 898.2 342.8 894.8 342.8 894.2 342.2 890.8 342.2 890.2 341.8 886.8 341.8 886.2 341.2 882.8 341.2 882.2 340.8 875.8 340.8 875.2 340.2 872.8 340.2 872.2 339.8 866.8 339.8 866.2 339.2 859.2 339.2 858.8 339.8 855.2 339.8 854.8 340.2 839.2 340.2 838.8 340.8 837.2 340.8 834.8 341.8 832.8 341.8 830.2 342.8 828.2 342.8 827.8 343.2 826.2 343.2 825.8 343.8 818.2 345.2ZM680.2 326.2 680.2 339.2 810.2 339.2 810.2 334.2 806.8 333.8 805.2 332.8 803.8 332.8 803.2 332.2 801.2 332.2 800.8 331.8 796.8 331.8 796.2 331.2 786.8 331.2 786.2 330.8 779.2 330.8 778.8 330.2 764.2 329.8 763.8 329.2 757.2 329.2 756.8 328.8 743.8 328.2 743.2 327.8 737.2 327.8 736.8 327.2 730.8 327.2 730.2 326.8 723.8 326.8 723.2 326.2ZM190.2 328.2 190.2 329.2 191.2 330.2 193.8 330.8 194.2 331.2 198.8 331.2 201.2 330.2 202.2 329.2 202.2 328.2 201.2 327.2 198.8 326.2 194.2 326.2 193.8 326.8 192.2 326.8ZM232.2 326.8 232.2 327.8 233.2 328.8 236.2 329.2 236.8 329.8 243.8 329.8 244.2 329.2 247.2 328.8 248.2 327.8 248.2 326.8 247.8 326.2 243.8 324.8 236.8 324.8 236.2 325.2 234.8 325.2ZM437.2 322.8 437.8 322.2 438.2 322.8 437.8 323.2ZM416.8 312.2 418.8 310.2 420.8 309.2 421.8 309.2 422.2 308.8 426.2 308.8 429.8 310.2 431.8 312.2 432.2 315.8 431.8 316.2 431.8 317.2 428.2 320.2 424.8 320.8 424.2 321.2 423.8 320.8 421.8 320.8 419.2 319.8 416.8 317.2 416.8 316.2 416.2 315.8ZM366.8 305.2 370.8 305.2 371.8 305.8 374.2 308.2 375.2 310.8 375.2 316.8 374.8 317.2 374.8 318.2 374.2 319.2 370.8 322.2 366.8 322.2 363.2 319.2 362.2 316.8 362.2 310.8 362.8 310.2 362.8 309.2 363.2 308.2ZM322.2 301.8 322.8 303.8 325.2 305.2 327.2 305.2 329.2 304.2 330.2 302.8 329.8 300.8 327.2 299.2 325.2 299.2 323.2 300.2ZM189.2 299.2 189.2 301.2 190.2 302.8 195.8 304.8 201.2 304.8 206.2 302.8 207.2 301.2 207.2 299.2 205.2 297.2 201.2 295.8 195.8 295.8 195.2 296.2 193.8 296.2 191.2 297.2ZM176.2 295.2 169.2 296.2 167.2 300.2 167.2 301.2 165.2 304.8 165.2 306.8 165.8 307.2 165.8 308.2 165.2 308.8 165.2 311.8 166.8 313.2 166.8 315.8 167.2 316.2 167.2 317.2 176.2 317.2 181.2 314.2 181.2 300.2ZM403.2 293.2 407.8 294.2 410.2 296.8 410.8 299.8 411.2 300.2 411.2 301.8 410.8 302.2 410.2 304.8 407.8 307.2 404.8 307.8 404.2 308.2 399.8 307.2 397.2 304.8 397.2 303.8 396.2 301.8 396.2 300.2 396.8 299.8 397.2 297.2 400.2 294.2 401.2 294.2ZM247.2 290.2 247.2 292.2 247.8 292.8 247.8 296.8 248.2 297.2 248.2 318.2 253.2 318.2 254.2 299.8 255.2 298.8 259.2 297.2 258.8 292.2 258.2 291.8 258.2 290.2ZM465.8 281.8 469.8 281.8 471.8 283.8 472.2 284.8 472.2 288.2 472.8 288.8 472.8 289.8 473.8 291.8 475.2 293.2 475.2 303.2 474.8 303.8 474.2 308.2 473.2 310.8 469.8 314.8 465.8 314.8 463.8 312.8 461.8 309.8 461.2 306.8 460.8 306.2 460.8 303.8 460.2 303.2 460.2 292.8 460.8 292.2 461.2 288.2 462.2 286.8 462.2 285.8ZM158.2 278.2 151.2 279.2 148.8 284.2 147.2 285.8 145.8 285.8 145.2 286.2 140.2 287.2 140.2 305.2 142.2 308.8 142.2 310.8 145.2 314.2 147.2 314.2 147.8 313.8 153.2 313.8 155.8 312.8 159.2 312.8 159.8 312.2 161.2 312.2 161.2 289.8 160.8 289.2 160.8 287.8 160.2 287.2 160.2 285.8 159.8 285.2 159.8 283.8 159.2 283.2ZM690.8 278.8 690.8 280.2 691.2 280.8 691.2 282.2 691.8 282.8 691.8 284.2 692.2 284.8 692.2 286.2 693.8 290.2 693.8 291.8 694.2 292.2 694.2 293.8 694.8 294.2 694.8 295.8 695.2 296.2 695.8 298.8 712.8 300.8 721.8 292.8 720.8 280.8 717.2 280.2 716.8 279.8 714.8 279.8 714.2 279.2 712.2 279.2 711.8 278.8 709.8 278.8 709.2 278.2 707.2 278.2 706.8 277.8 701.8 277.8 701.2 278.2 694.8 278.2 694.2 278.8ZM495.2 274.2 498.8 274.8 501.8 277.8 503.8 282.8 503.8 284.2 504.2 284.8 504.2 291.8 503.8 292.2 503.8 293.8 503.2 294.2 502.2 298.2 498.8 301.8 497.8 301.8 497.2 302.2 493.8 301.8 490.2 298.2 490.2 297.2 488.8 293.8 488.8 292.2 488.2 291.8 488.2 284.8 488.8 284.2 488.8 282.8 489.2 282.2 489.8 279.8 490.8 277.8 493.8 274.8 494.8 274.8ZM340.2 267.2 338.2 269.8 337.8 275.2 338.2 275.8 338.2 277.8 338.8 278.8 340.2 280.2 342.2 280.2 344.2 277.8 344.8 272.2 344.2 271.8 344.2 269.8 343.8 268.8 342.2 267.2ZM903.2 269.2 903.2 270.2 905.8 272.8 909.2 273.2 909.8 273.8 914.8 272.8 915.8 272.2 917.2 270.2 917.2 269.2 915.8 267.2 913.2 266.2 911.2 266.2 910.8 265.8 905.8 266.8ZM550.2 262.8 548.2 263.8 546.8 265.2 545.8 267.2 545.8 269.2 546.8 271.2 548.2 272.8 550.2 273.8 554.2 273.8 557.8 271.2 558.8 269.2 558.8 267.2 557.8 265.2 554.2 262.8ZM767.2 261.8 766.8 261.2 766.8 259.8 766.2 259.2 765.2 255.2 752.2 256.2 733.2 265.8 732.2 266.8 725.2 270.2 728.2 275.2 729.2 275.2 729.8 274.8 731.2 274.8 731.8 274.2 733.2 274.2 733.8 273.8 735.2 273.8 735.8 273.2 737.2 273.2 737.8 272.8 739.2 272.8 739.8 272.2 741.2 272.2 743.8 271.2 745.8 271.2 748.2 270.2 750.2 270.2 750.8 269.8 758.2 268.2 766.8 262.8ZM868.8 247.2 862.8 246.8 860.2 245.8 855.8 245.8 855.2 246.2 851.8 246.8 847.2 250.8 847.2 251.2 840.8 258.2 838.2 261.8 838.2 268.8 845.2 278.2 856.2 281.8 864.2 276.2 865.2 271.2 865.8 270.8 865.8 269.2 866.2 268.8 866.2 267.2 866.8 266.8 866.8 265.2 867.2 264.8ZM467.2 242.2 466.8 242.8 466.8 244.2 467.2 244.8 467.8 249.8 474.8 256.2 479.2 254.8 479.2 253.2 478.8 252.8 479.2 249.2 478.8 248.8 478.8 246.2 478.2 245.8 478.2 243.2 477.8 242.8 477.8 241.8 477.2 241.2 475.8 241.2 475.2 241.8 472.2 241.8 471.8 242.2ZM434.8 232.2 434.8 233.2 434.2 233.8 434.2 240.8 434.8 241.2 434.8 242.2 436.8 243.8 438.2 243.8 439.2 242.8 439.8 243.2 439.8 247.8 440.2 248.2 440.2 250.2 440.8 250.8 442.2 251.2 443.2 252.2 444.8 252.8 445.8 253.8 450.2 256.2 462.2 257.2 462.2 245.2 450.2 237.2 440.8 239.8 440.2 239.2 440.2 233.8 439.8 233.2 439.8 232.2 438.2 230.8 436.8 230.8ZM482.8 225.2 482.2 229.8 481.8 230.2 481.8 232.8 481.2 233.2 481.2 235.8 481.8 236.2 482.8 241.8 484.2 244.2 484.2 245.2 486.8 250.8 494.8 254.8 502.2 254.8 502.2 250.8 502.8 250.2 502.8 241.8 503.2 241.2 503.2 235.8 503.8 235.2 504.2 230.2 502.8 227.2 501.8 223.8 497.2 223.2 496.8 222.8 492.8 222.8 492.2 222.2 490.2 222.2 488.8 223.2 487.8 223.2ZM304.2 209.2 303.2 210.2 303.2 211.8 302.8 212.2 302.2 220.2 307.2 226.2 309.2 226.2 313.2 222.2 313.2 219.8 312.8 219.2 311.8 213.8 311.2 213.2 311.2 212.2 309.8 210.8 306.8 209.2ZM292.8 202.2 291.2 203.8 291.2 204.8 292.8 206.2 293.8 206.2 295.2 204.8 295.2 203.8 293.8 202.2ZM436.2 198.8 434.8 200.8 434.8 201.8 434.2 202.2 434.2 204.8 433.8 205.2 433.8 216.8 434.2 217.2 434.2 219.8 435.2 221.8 436.2 222.8 439.2 222.8 441.2 219.8 441.2 217.2 441.8 216.8 441.8 205.2 441.2 204.8 441.2 202.2 440.2 199.8 439.2 198.8ZM892.2 197.2 891.8 197.8 890.2 197.8 887.8 198.8 884.2 201.8 881.8 206.2 881.8 207.8 881.2 208.2 881.2 213.2 881.8 213.8 881.8 215.8 884.2 220.2 884.8 220.2 887.2 222.8 890.8 224.2 895.8 224.2 900.8 221.8 900.8 221.2 902.2 220.2 904.8 215.8 904.8 213.8 905.2 213.2 905.2 208.2 903.2 203.2 900.2 199.8 896.2 197.8ZM407.8 196.2 406.2 197.8 406.8 210.2 407.2 210.8 407.2 214.2 407.8 214.8 409.8 221.8 411.8 224.2 421.8 224.2 423.2 222.8 425.2 217.2 425.2 211.8 424.8 211.2 424.2 203.8 419.8 197.2 417.8 195.2 413.2 195.2 412.8 195.8ZM872.8 191.8 872.8 192.8 873.2 193.2 875.8 193.2 876.8 192.2 875.8 191.2 873.2 191.2ZM127.2 351.8 156.2 351.8 156.8 351.2 176.2 351.2 176.8 350.8 244.2 350.8 244.8 350.2 306.8 349.8 307.2 349.2 320.2 349.2 320.8 348.8 343.2 348.2 343.8 347.8 349.8 347.8 350.2 347.2 362.8 346.8 363.2 346.2 375.2 345.8 375.8 345.2 381.8 345.2 382.2 344.8 481.2 344.8 481.8 344.2 490.2 343.2 490.8 342.8 492.8 342.8 493.2 342.2 498.8 341.8 499.2 341.2 500.2 341.2 502.8 338.2 579.8 338.2 580.2 338.8 602.2 338.8 602.8 338.2 677.2 338.2 677.8 323.8 677.2 323.2 677.2 321.8 676.8 321.2 676.8 319.8 676.2 319.2 676.2 317.8 675.8 317.2 675.8 315.8 675.2 315.2 674.8 312.8 663.8 307.2 658.8 307.2 658.2 307.8 648.8 307.8 648.2 308.2 638.8 308.2 638.2 308.8 631.2 308.8 630.8 308.2 626.8 308.2 626.2 307.8 622.8 307.8 622.2 307.2 618.2 307.2 617.8 306.8 610.8 306.2 605.8 303.8 604.8 303.8 603.2 302.8 602.2 302.8 600.8 301.8 599.8 301.8 598.2 300.8 597.2 300.8 594.8 299.2 593.8 299.2 592.2 298.2 591.2 298.2 589.2 297.2 587.2 294.8 586.2 291.8 581.8 287.2 578.2 282.2 577.2 282.2 575.8 281.2 574.2 281.2 573.8 280.8 570.8 280.8 570.2 280.2 568.2 280.2 567.8 279.8 563.8 279.2 561.2 278.2 554.8 277.8 554.2 277.2 551.2 277.2 550.8 276.8 547.2 276.8 546.8 276.2 543.8 276.2 543.2 275.8 540.8 275.8 540.2 275.2 537.8 275.2 537.2 274.8 534.8 274.8 534.2 274.2 531.2 274.2 530.8 273.8 522.2 272.8 520.2 271.8 520.2 270.2 519.2 268.2 517.2 266.2 514.8 264.8 509.8 264.8 507.2 266.2 505.2 268.2 505.2 268.8 504.2 269.2 503.8 268.8 501.8 268.8 501.2 268.2 499.8 268.2 499.2 267.8 497.8 267.8 497.2 267.2 489.8 265.8 487.8 264.8 480.2 263.2 478.2 262.2 471.8 262.2 471.8 270.2 471.2 270.8 470.8 274.2 467.8 279.2 465.8 281.2 462.2 283.8 458.8 284.8 458.2 284.2 458.8 283.8 459.2 278.8 458.8 278.2 458.8 275.8 458.2 275.2 458.2 274.2 456.2 271.8 455.2 271.2 452.8 271.2 450.8 272.8 449.8 274.8 449.8 275.8 449.2 276.2 449.2 282.2 448.8 282.8 444.8 279.2 443.2 276.2 442.2 275.2 441.8 272.8 441.2 272.2 441.2 270.8 440.8 270.2 440.8 262.2 438.8 260.8 438.8 260.2 435.2 256.2 431.8 256.2 431.2 256.8 424.2 256.8 423.8 257.2 423.2 260.8 417.8 266.2 416.8 266.2 416.2 266.8 410.8 266.8 410.2 266.2 408.8 266.2 403.2 260.8 403.2 259.8 401.8 258.8 400.2 258.8 397.8 257.8 395.8 257.8 395.2 257.2 393.8 257.2 391.2 256.2 388.8 256.2 388.2 255.8 388.2 241.8 386.8 240.2 380.8 240.2 379.8 238.8 378.8 231.8 375.2 222.2 375.2 208.8 373.8 205.8 370.2 200.8 369.8 199.2 366.8 196.2 358.2 190.8 353.2 190.8 352.8 191.2 350.8 191.2 350.2 191.8 348.2 191.8 347.8 192.2 345.2 192.2 344.8 191.8 342.8 191.8 340.2 190.8 325.2 190.2 322.2 192.8 321.8 193.8 321.8 195.8 321.2 196.2 320.8 208.2 322.2 212.2 322.2 213.8 323.2 215.8 326.2 218.8 332.2 223.2 333.2 228.2 334.8 231.2 339.2 237.8 340.8 240.8 344.2 244.2 344.2 245.8 345.2 248.2 345.2 250.2 345.8 250.8 345.8 252.2 346.8 254.8 346.8 256.8 347.8 259.2 347.8 261.2 348.2 261.8 348.2 263.2 349.2 265.8 349.2 267.8 349.8 268.2 349.8 269.8 350.2 270.2 350.2 271.8 350.8 272.2 350.8 273.8 351.2 274.2 351.2 275.8 351.8 276.2 351.8 277.8 352.2 278.2 352.2 279.8 353.2 282.2 353.2 283.2 352.8 283.8 346.2 283.8 345.8 284.2 345.8 323.2 346.2 323.8 379.2 323.8 379.8 324.2 379.2 324.8 357.2 325.2 356.8 325.8 346.2 325.8 345.8 326.2 335.8 326.2 335.2 326.8 325.8 326.8 325.2 327.2 315.8 327.2 315.2 327.8 311.8 327.8 309.8 324.8 307.8 323.8 304.8 323.8 301.8 325.8 300.8 328.2 258.2 329.2 257.8 329.8 251.2 329.8 250.8 330.2 237.8 330.8 237.2 331.2 230.8 331.2 230.2 331.8 184.8 332.2 184.2 332.8 179.2 332.8 178.8 333.2 173.8 333.2 173.2 333.8 168.2 333.8 167.8 334.2 156.8 334.2 156.2 334.8 127.2 334.8ZM610.2 189.8 609.2 192.2 609.2 195.8 609.8 196.2 609.8 200.8 610.2 201.2 610.2 203.2 611.8 206.2 615.2 207.8 616.8 207.8 618.8 208.8 620.2 208.8 620.8 209.2 623.8 209.8 627.8 211.2 638.2 212.2 640.8 218.8 644.2 220.8 645.2 220.8 648.2 222.2 651.8 221.8 658.2 218.2 660.2 218.2 660.8 217.8 669.2 217.2 669.8 217.8 674.2 217.8 674.8 218.2 676.2 218.2 678.8 220.8 682.2 223.2 682.8 228.8 685.2 233.2 686.2 234.2 686.8 235.8 687.8 236.8 688.2 238.2 690.8 240.8 691.2 240.8 699.8 247.8 707.8 250.2 708.2 250.8 709.2 250.8 709.8 251.2 710.8 251.2 711.2 251.8 713.8 251.8 714.2 251.2 721.2 250.2 721.8 249.8 722.8 249.8 723.8 248.8 723.8 239.8 709.2 227.8 706.8 221.8 704.8 220.8 701.8 220.8 701.2 221.2 698.8 219.8 697.8 219.8 692.2 217.2 692.8 216.8 692.8 214.8 693.2 214.2 694.2 207.2 692.8 203.8 688.8 198.2 684.8 196.8 682.8 196.8 682.2 196.2 680.2 196.2 679.8 195.8 677.8 195.8 677.2 195.2 673.8 195.2 673.2 195.8 670.2 195.8 669.8 196.2 666.2 196.2 665.8 196.8 659.8 197.2 659.2 197.8 657.2 197.8 656.8 198.2 654.8 198.2 654.2 198.8 652.2 198.8 651.8 199.2 649.8 199.2 649.2 199.8 647.2 199.8 646.8 200.2 642.8 200.8 632.8 195.8 631.2 194.2 622.8 188.8 621.8 188.8 621.2 188.2 613.2 188.2ZM378.8 185.8 377.8 186.8 378.2 198.8 378.8 199.2 378.8 202.2 379.8 203.8 379.8 204.8 380.8 206.2 381.8 209.8 383.8 212.8 385.8 213.8 386.8 213.8 388.2 214.8 391.8 214.8 396.2 208.8 398.8 203.8 398.8 202.8 400.8 199.2 400.8 186.8 399.8 185.8 396.8 185.2 396.2 184.8 394.2 184.8 391.8 183.8 386.8 183.8 386.2 184.2Z"/>
<path fill="#8e8e8e" fill-rule="evenodd" d="M893.2 345.2 890.8 344.8 890.2 344.2 888.8 344.2 886.8 343.2 881.2 342.2 880.8 341.8 873.2 341.8 872.8 341.2 867.2 341.2 866.8 340.8 858.8 340.8 858.2 341.2 844.2 341.2 843.8 341.8 841.8 341.8 841.2 342.2 839.2 342.2 838.8 342.8 836.8 342.8 836.2 343.2 834.2 343.2 833.8 343.8 831.8 343.8 831.2 344.2 829.2 344.2 828.8 344.8 825.2 345.2 825.2 358.8 885.8 358.8 888.8 351.2ZM772.2 334.8 772.2 335.8 773.8 336.8 777.8 337.2 778.2 337.8 782.2 337.8 782.8 338.2 795.8 338.2 796.2 337.8 800.2 337.8 800.8 337.2 802.8 337.2 803.2 336.8 804.8 336.8 806.2 335.8 806.2 334.8 804.8 333.8 800.8 333.2 800.2 332.8 796.2 332.8 795.8 332.2 782.8 332.2 782.2 332.8 778.2 332.8 777.8 333.2 775.8 333.2 775.2 333.8 773.8 333.8ZM584.2 322.2 585.8 320.8 588.2 319.8 595.8 319.2 596.2 319.8 600.2 319.8 600.8 320.2 601.8 320.2 604.2 322.2 604.2 323.2 602.8 324.8 600.2 325.8 592.2 326.2 591.8 325.8 588.2 325.8 587.8 325.2 586.8 325.2 584.2 323.2ZM167.2 308.2 165.8 309.2 165.8 311.2 167.8 312.2 168.8 311.2 168.8 309.2ZM193.8 300.2 193.8 301.2 195.2 302.8 198.2 302.8 199.8 301.2 199.8 300.2 198.8 299.2 197.8 299.2 197.2 298.8 196.2 298.8ZM171.8 298.2 170.2 299.2 169.2 301.2 169.2 303.2 170.8 305.8 172.8 306.2 174.2 305.2 175.2 303.2 175.2 301.2 173.8 298.8ZM443.2 293.8 441.8 294.8 440.2 297.2 440.2 298.8 439.8 299.2 439.8 304.8 440.8 307.2 442.2 309.2 443.2 309.8 445.8 309.8 446.8 309.2 448.8 306.8 448.8 305.2 449.2 304.8 449.2 298.8 448.8 298.2 448.2 295.8 446.8 294.2 445.8 293.8ZM423.8 292.8 420.2 294.2 420.2 294.8 418.2 296.8 417.2 300.2 418.2 302.8 420.2 304.8 420.2 305.2 423.8 306.8 426.8 306.8 430.2 305.2 431.2 304.2 432.8 301.8 433.2 299.2 432.2 296.8 430.2 294.2 426.8 292.8ZM143.2 290.8 142.8 293.2 143.2 293.8 144.2 293.8 144.8 293.2 144.8 291.2 144.2 290.8ZM381.8 287.2 382.2 286.8 384.8 286.8 385.2 287.2 384.2 288.2ZM717.2 287.8 710.8 281.2 699.8 281.8 699.2 282.2 695.8 282.2 695.2 282.8 695.2 284.8 695.8 285.2 695.8 287.8 696.2 288.2 696.2 290.2 696.8 290.8 696.8 293.2 697.2 293.8 697.2 294.8 699.8 295.8 702.2 295.8 702.8 296.2 705.2 296.2 705.8 296.8 710.8 297.2 717.2 288.8ZM155.8 281.2 154.8 281.2 153.8 282.8 153.2 286.2 152.8 286.8 152.8 289.8 152.2 290.2 152.2 302.2 152.8 302.8 152.8 305.2 152.2 305.8 148.2 305.8 147.8 306.2 146.2 306.2 143.2 308.8 143.2 309.8 146.2 312.2 147.8 312.2 148.2 312.8 152.2 312.8 152.8 312.2 155.2 311.8 157.2 309.8 157.2 306.2 157.8 305.8 157.8 302.8 158.2 302.2 158.2 290.2 157.8 289.8 157.2 284.2ZM452.8 272.8 451.8 273.8 450.8 276.2 450.8 283.2 452.8 286.2 455.2 286.2 457.2 283.8 457.2 281.2 457.8 280.8 457.2 275.8 456.8 275.2 456.8 274.2 455.2 272.8ZM480.8 269.8 479.8 269.8 476.8 271.8 475.8 273.8 475.2 276.2 473.2 280.2 473.2 287.2 473.8 287.8 473.8 288.8 475.2 291.8 478.2 293.8 479.8 293.8 482.2 292.2 484.2 288.2 484.2 287.2 485.2 285.2 485.2 283.8 485.8 283.2 485.8 277.2 485.2 276.8 484.8 273.8 483.8 271.8ZM510.8 265.8 506.8 268.2 505.2 271.2 505.2 274.2 508.2 278.2 510.2 279.2 512.8 279.8 516.2 278.2 517.8 276.8 519.2 274.2 519.2 271.2 517.8 268.2 513.8 265.8ZM429.2 263.2 425.2 265.8 424.2 267.8 423.8 270.2 425.2 273.8 426.8 275.2 428.8 276.2 431.2 276.8 434.8 275.2 435.8 274.2 437.2 271.2 437.2 268.2 436.2 266.2 434.2 264.2 432.2 263.2ZM859.8 246.2 852.8 249.2 850.2 257.2 849.8 257.8 851.8 268.2 856.8 269.2 857.2 269.8 858.2 269.8 863.2 259.8 863.2 257.8 863.8 257.2 863.8 252.8 864.2 252.2 864.2 250.2ZM467.8 242.8 470.2 247.8 475.8 254.8 478.8 250.8 477.2 242.2ZM437.2 231.8 435.8 232.8 435.8 233.8 435.2 234.2 435.2 240.2 435.8 240.8 435.8 241.8 437.8 242.8 438.8 241.8 438.8 240.8 439.2 240.2 439.2 234.2 438.8 233.8 438.8 232.8ZM500.2 225.2 499.2 224.2 497.8 224.2 497.2 223.8 494.2 223.8 493.8 224.2 490.8 223.8 484.2 230.8 484.2 238.8 486.8 238.2 487.2 237.8 488.8 237.8 491.8 236.2 501.2 229.8 501.8 228.8 500.8 227.2ZM304.8 210.2 303.8 212.8 303.2 219.8 307.8 225.2 308.8 225.2 312.2 221.8 310.8 214.2 310.2 213.8 310.2 212.8 309.2 211.8 306.2 210.2ZM436.8 199.8 435.8 201.2 435.8 202.2 435.2 202.8 435.2 205.2 434.8 205.8 434.8 216.2 435.2 216.8 435.2 219.2 436.8 221.8 438.8 221.8 440.2 219.2 440.2 216.8 440.8 216.2 440.8 205.8 440.2 205.2 440.2 202.8 439.2 200.2 438.8 199.8ZM892.2 199.2 888.8 200.8 885.2 204.2 885.2 205.2 883.8 208.2 883.8 213.2 884.2 213.8 884.2 215.2 885.2 216.8 885.2 217.8 886.8 219.8 890.8 222.2 895.8 222.2 896.8 221.2 898.8 220.8 898.8 220.2 899.8 219.8 901.2 217.8 901.2 216.8 902.2 215.2 902.2 213.8 902.8 213.2 902.8 208.2 901.2 205.2 901.2 204.2 898.2 200.8 897.2 200.8 894.2 199.2ZM408.2 197.2 407.2 198.2 407.8 209.8 408.2 210.2 408.2 213.8 408.8 214.2 410.8 221.2 412.2 223.2 421.2 223.2 422.8 221.2 422.8 220.2 424.2 216.8 424.2 212.2 423.8 211.8 423.2 204.2 417.2 196.2 413.8 196.2 413.2 196.8ZM127.2 350.8 156.2 350.8 156.8 350.2 176.2 350.2 176.8 349.8 244.2 349.8 244.8 349.2 306.8 348.8 307.2 348.2 320.2 348.2 320.8 347.8 342.2 347.2 342.8 346.8 346.2 346.8 346.8 346.2 350.2 346.2 350.8 345.8 354.2 345.8 354.8 345.2 358.2 345.2 358.8 344.8 362.8 344.8 363.2 344.2 366.8 344.2 367.2 343.8 370.8 343.8 371.2 343.2 374.8 343.2 375.2 342.8 378.8 342.8 379.2 342.2 382.8 342.2 383.2 341.8 483.2 341.8 483.8 341.2 490.2 341.2 490.8 340.8 496.8 340.8 497.2 340.2 500.2 340.2 502.2 337.2 580.2 337.2 580.8 337.8 601.8 337.8 602.2 337.2 644.2 337.2 641.8 337.2 641.2 336.8 638.8 336.2 637.8 335.2 636.8 335.2 634.2 332.2 634.2 330.2 636.2 327.8 637.8 327.2 638.8 326.2 639.8 326.2 641.8 325.2 644.2 325.2 644.8 324.8 651.8 324.8 652.2 325.2 654.8 325.2 657.8 326.8 658.8 326.8 660.2 327.8 662.2 330.2 662.2 332.2 659.8 335.2 654.8 337.2 652.2 337.2 674.2 337.2 674.8 324.2 674.2 323.8 674.2 320.8 673.8 320.2 673.2 315.2 663.8 311.8 658.8 312.2 658.2 312.8 654.2 312.8 653.8 313.2 651.8 313.2 651.2 313.8 649.2 313.8 648.8 314.2 646.2 314.2 645.8 314.8 643.2 314.8 642.8 315.2 637.8 315.2 637.2 314.8 630.2 314.8 629.8 314.2 626.2 314.2 625.2 313.2 622.8 312.8 622.2 312.2 619.2 312.2 618.8 311.8 610.2 311.8 609.8 311.2 607.2 311.2 606.8 310.8 604.2 310.8 603.8 310.2 601.2 310.2 600.8 309.8 598.2 309.8 597.8 309.2 595.2 309.2 594.8 308.8 592.2 308.8 591.8 308.2 590.8 308.2 589.8 307.2 589.8 306.2 588.8 304.2 588.8 302.8 588.2 302.2 585.2 292.2 575.2 282.2 573.8 282.2 573.2 281.8 569.8 281.8 569.2 281.2 566.2 281.2 565.8 280.8 562.2 280.8 561.8 280.2 560.2 280.2 554.2 284.2 552.8 284.8 540.2 294.2 534.2 294.8 533.8 295.2 530.2 295.2 529.8 295.8 525.8 295.8 525.2 296.2 521.8 296.2 521.2 296.8 517.8 296.8 517.2 297.2 504.2 296.8 503.8 298.8 499.2 303.2 497.8 303.2 497.2 303.8 493.2 303.2 488.8 298.8 488.8 298.2 477.2 300.2 477.2 319.2 476.8 319.8 457.2 319.2 456.8 319.8 452.2 319.8 451.8 320.2 447.8 320.2 447.2 320.8 442.8 320.8 442.2 321.2 440.2 321.2 439.2 322.2 439.2 324.2 438.8 324.8 436.8 324.8 436.2 324.2 436.2 323.2 435.2 322.2 432.8 322.2 432.2 321.8 427.2 321.8 426.8 322.2 424.8 322.2 424.2 322.8 423.8 322.2 419.8 321.8 418.2 320.8 414.8 320.8 414.2 320.2 406.8 320.2 406.2 320.8 401.8 320.8 401.2 321.2 396.2 321.2 395.8 321.8 391.2 321.8 390.8 322.2 389.8 322.2 389.2 321.8 389.2 300.2 390.8 298.8 391.8 296.8 391.8 295.2 392.2 294.8 392.2 289.8 390.8 285.8 388.8 284.2 387.8 284.2 387.2 284.8 386.8 284.2 386.8 242.2 386.2 241.8 379.2 241.8 378.2 240.2 377.2 233.2 373.8 223.8 373.8 210.2 373.2 209.8 373.2 208.8 370.2 204.2 369.8 202.8 368.8 201.8 368.2 200.2 365.8 197.8 358.2 192.8 354.8 192.2 354.2 192.8 352.2 192.8 351.8 193.2 349.8 193.2 349.2 193.8 345.8 194.2 345.2 193.8 341.2 193.2 338.8 192.2 326.8 191.8 326.2 192.2 325.2 192.2 323.8 193.8 323.2 197.2 322.8 197.8 322.2 206.8 323.8 210.8 323.8 212.2 324.8 214.8 327.2 217.2 329.8 218.8 333.8 222.2 334.2 224.8 334.8 225.2 334.8 226.8 336.2 230.2 340.8 236.8 342.2 239.8 345.8 243.2 345.8 245.2 346.2 245.8 346.8 249.8 347.2 250.2 347.2 251.8 348.2 254.2 348.2 256.2 348.8 256.8 349.2 260.8 349.8 261.2 349.8 262.8 350.8 265.2 350.8 267.2 351.2 267.8 351.2 269.2 351.8 269.8 351.8 271.2 352.2 271.8 352.2 273.2 352.8 273.8 352.8 275.2 353.2 275.8 353.2 277.2 353.8 277.8 353.8 279.2 354.2 279.8 354.2 281.2 355.2 283.8 355.2 284.8 354.8 285.2 347.2 285.2 347.2 322.2 365.2 322.2 364.8 322.2 361.8 318.8 361.8 317.8 361.2 317.2 361.2 310.2 362.2 307.8 366.2 304.2 371.2 304.2 375.2 307.8 376.2 310.2 376.2 317.2 375.2 319.8 372.8 322.2 387.2 322.2 387.8 322.8 387.2 323.2 387.2 325.8 386.8 326.2 368.8 326.8 368.2 327.2 357.2 327.2 356.8 327.8 346.2 327.8 345.8 328.2 335.8 328.2 335.2 328.8 325.8 328.8 325.2 329.2 315.8 329.2 315.2 329.8 310.2 329.8 309.8 329.2 310.2 328.2 309.8 326.2 307.2 324.8 305.2 324.8 303.2 325.8 302.2 327.2 302.2 328.2 303.2 329.8 302.8 330.2 258.2 330.8 257.8 331.2 251.2 331.2 250.8 331.8 237.8 332.2 237.2 332.8 230.8 332.8 230.2 333.2 184.8 333.8 184.2 334.2 179.2 334.2 178.8 334.8 173.8 334.8 173.2 335.2 168.2 335.2 167.8 335.8 156.8 335.8 156.2 336.2 127.2 336.2ZM611.2 190.8 610.8 191.8 611.2 201.2 611.8 201.8 611.8 203.8 612.8 205.2 614.8 206.2 616.2 206.2 618.2 207.2 619.8 207.2 620.2 207.8 623.2 208.2 627.2 209.8 639.2 210.8 639.8 211.2 640.2 214.2 641.8 217.8 647.8 220.8 650.8 220.8 658.2 216.8 660.8 216.8 661.2 216.2 668.8 215.8 669.2 216.2 673.8 216.2 674.2 216.8 676.2 216.8 681.8 221.2 683.8 222.2 684.2 228.2 686.8 232.8 687.8 233.8 688.2 235.2 689.2 236.2 689.8 237.8 698.8 245.2 701.2 246.8 702.2 246.8 711.8 250.2 722.2 248.2 722.2 240.2 713.8 233.2 713.2 233.2 708.2 228.8 707.8 226.8 706.8 225.2 706.8 224.2 705.2 222.2 701.2 222.2 700.8 222.8 698.2 221.2 697.2 221.2 690.8 218.2 691.2 217.2 691.2 215.2 691.8 214.8 691.8 212.8 692.2 212.2 692.2 210.2 692.8 209.8 692.8 206.8 687.8 199.2 685.2 198.2 683.2 198.2 682.8 197.8 680.8 197.8 680.2 197.2 678.2 197.2 677.8 196.8 673.2 196.8 672.8 197.2 669.8 197.2 669.2 197.8 665.8 197.8 665.2 198.2 659.2 198.8 658.8 199.2 656.8 199.2 656.2 199.8 654.2 199.8 653.8 200.2 651.8 200.2 651.2 200.8 649.2 200.8 648.8 201.2 646.8 201.2 646.2 201.8 642.8 202.2 631.8 196.8 630.2 195.2 621.8 189.8 612.8 189.8ZM388.2 184.2 387.8 184.8 383.8 185.2 383.2 185.8 381.8 185.8 379.2 186.8 378.2 188.2 378.2 191.2 378.8 191.8 378.8 197.2 379.2 197.8 379.2 200.8 380.2 202.2 380.2 203.2 381.2 204.8 381.2 205.8 383.8 211.2 387.2 213.2 388.2 213.2 390.2 214.2 392.2 212.8 395.2 208.2 398.2 202.2 398.2 201.2 400.2 197.8 400.2 188.2 399.8 187.2 398.2 186.2 395.2 185.8 394.8 185.2 392.8 185.2 390.2 184.2Z"/>
<path fill="#717171" fill-rule="evenodd" d="M843.8 344.8 843.8 358.8 877.8 358.8 877.8 357.8 878.2 357.2 878.2 354.8 878.8 354.2 878.8 351.2 877.8 349.8 876.2 344.8 874.8 342.8 872.2 342.8 871.8 342.2 866.2 342.2 865.8 341.8 859.8 341.8 859.2 342.2 855.8 342.2 855.2 342.8 847.2 343.2 846.8 343.8 844.8 343.8ZM560.2 330.2 560.2 331.2 561.8 332.8 566.8 334.8 568.8 334.8 569.2 335.2 571.2 335.2 571.8 335.8 574.8 335.8 575.2 336.2 580.8 336.2 581.2 336.8 601.2 336.8 601.8 336.2 611.2 335.8 611.8 335.2 616.2 334.8 619.2 333.2 620.2 333.2 622.2 331.2 622.2 330.2 618.8 327.8 617.8 327.8 615.8 326.8 613.8 326.8 613.2 326.2 605.2 325.8 604.8 325.2 603.8 325.2 600.8 326.8 596.8 326.8 596.2 327.2 587.8 326.8 584.8 325.2 577.2 325.2 576.8 325.8 573.2 325.8 572.8 326.2 570.2 326.2 569.8 326.8 565.8 327.2 562.8 328.8 561.8 328.8ZM560.2 318.2 560.2 319.8 562.8 321.8 564.2 321.8 566.8 322.8 575.8 322.8 576.2 322.2 579.8 321.8 582.2 319.8 582.2 318.2 581.2 317.2 579.2 316.2 575.8 315.8 575.2 315.2 567.2 315.2 566.8 315.8 563.2 316.2ZM645.8 318.2 645.8 320.8 648.2 323.2 649.2 323.2 649.8 323.8 652.2 323.8 652.8 324.2 655.2 324.2 657.2 325.2 662.2 325.2 662.8 324.8 667.8 324.2 670.8 322.8 672.8 320.8 672.8 318.2 671.2 316.2 670.2 316.2 669.2 315.2 668.2 315.2 666.8 314.2 663.8 314.2 663.2 313.8 654.8 313.8 654.2 314.2 650.2 314.8 647.2 316.2ZM593.8 314.2 593.8 315.2 594.8 315.2 596.8 316.2 599.8 316.2 600.2 316.8 618.2 316.8 618.8 316.2 621.8 316.2 622.2 315.8 624.8 315.2 624.8 314.2 623.8 313.8 618.8 313.2 618.2 312.8 600.2 312.8 599.8 313.2 596.8 313.2 596.2 313.8ZM556.2 310.2 545.2 304.2 519.8 303.2 519.2 303.8 517.8 303.8 517.2 304.2 515.8 304.2 515.2 304.8 513.8 304.8 511.8 305.8 510.2 305.8 509.8 306.2 508.2 306.2 507.8 306.8 505.2 307.2 492.2 322.2 495.2 322.2 495.8 322.8 501.8 322.8 502.2 323.2 501.8 323.8 499.2 323.8 498.8 324.2 486.2 324.2 485.8 323.8 482.8 323.8 481.8 321.2 476.8 321.2 476.2 320.8 466.2 320.8 465.8 320.2 457.8 320.2 457.2 320.8 452.8 320.8 452.2 321.2 448.2 321.2 447.8 321.8 443.2 321.8 442.8 322.2 440.8 322.2 440.2 322.8 440.2 325.2 439.8 325.8 435.8 325.8 434.8 323.2 432.2 323.2 431.8 322.8 429.8 322.8 429.2 323.2 427.2 323.2 426.8 323.8 424.8 323.8 424.2 324.2 423.8 323.8 419.2 323.2 417.2 321.8 414.2 321.8 413.8 321.2 407.2 321.2 406.8 321.8 402.2 321.8 401.8 322.2 396.8 322.2 396.2 322.8 388.8 323.2 388.2 323.8 388.2 326.8 387.8 327.2 374.2 327.8 373.8 328.2 366.8 328.2 366.2 328.8 359.2 328.8 358.8 329.2 351.8 329.2 351.2 329.8 344.2 329.8 343.8 330.2 310.8 330.8 310.2 331.2 258.8 331.8 258.2 332.2 247.2 332.8 246.8 333.2 241.8 333.2 241.2 333.8 236.2 333.8 235.8 334.2 230.2 334.2 229.8 334.8 185.2 334.8 184.8 335.2 180.8 335.2 180.2 335.8 172.2 336.2 171.8 336.8 167.8 336.8 167.2 337.2 156.8 337.2 156.2 337.8 127.2 337.8 127.2 349.8 156.2 349.8 156.8 349.2 176.2 349.2 176.8 348.8 305.2 348.2 305.8 347.8 315.2 347.8 315.8 347.2 325.2 347.2 325.8 346.8 341.8 346.2 342.2 345.8 345.8 345.8 346.2 345.2 353.2 344.8 353.8 344.2 360.8 343.8 361.2 343.2 368.2 342.8 368.8 342.2 375.8 341.8 376.2 341.2 383.2 340.8 383.8 340.2 485.2 340.2 485.8 339.8 495.2 339.8 495.8 339.2 500.2 339.2 500.8 338.8 500.8 334.8 501.2 334.2 503.2 334.2 503.8 334.8 508.8 334.8 509.2 335.2 533.2 335.2 533.8 334.8 538.8 334.8 539.2 334.2 542.2 334.2 542.8 333.8 545.2 333.8 545.8 333.2 549.2 332.8 551.2 331.8 553.2 329.8 553.2 327.8 552.2 326.8 547.8 324.8 545.8 324.8 543.2 323.8 540.2 323.8 539.8 323.2 535.8 323.2 535.2 322.8 526.2 322.8 525.8 322.2 516.2 322.2 515.8 322.8 511.8 322.8 511.2 322.2 511.8 321.8 513.8 321.8 514.2 321.2 516.2 321.2 516.8 320.8 518.8 320.8 519.2 320.2 527.8 320.8 528.2 321.2 532.8 321.2 533.2 321.8 537.8 321.8 538.2 322.2 542.2 322.2 542.8 321.8 546.2 321.8 546.8 321.2 550.2 321.2 550.8 320.8 554.2 320.8 554.8 320.2 556.2 320.2ZM421.2 295.2 421.2 295.8 419.2 297.8 419.2 298.8 418.8 299.2 419.2 301.8 421.2 303.8 421.2 304.2 423.8 305.2 426.8 305.2 429.2 304.2 431.2 301.8 431.2 300.8 431.8 300.2 431.2 297.8 429.2 295.2 426.8 294.2 423.8 294.2ZM480.8 271.2 479.8 271.2 477.8 272.8 476.8 276.2 474.8 280.2 474.8 287.2 476.2 290.8 478.2 292.2 479.8 292.2 481.2 291.2 482.8 288.2 482.8 287.2 483.8 285.2 483.8 283.8 484.2 283.2 484.2 277.2 483.8 276.8 483.8 275.2 482.8 272.8ZM510.8 267.2 507.8 269.2 506.8 271.2 506.8 274.2 509.2 277.2 512.8 278.2 515.2 277.2 517.8 274.2 517.8 271.2 516.8 269.2 513.8 267.2ZM429.2 264.8 426.2 266.8 425.2 270.2 426.2 272.8 427.8 274.2 431.2 275.2 433.8 274.2 434.8 273.2 435.8 271.2 435.8 268.2 433.2 265.2 432.2 264.8ZM491.2 226.8 491.2 227.8 492.8 229.2 493.8 229.2 494.2 229.8 497.8 229.8 499.8 228.8 500.2 227.8 499.8 225.8 498.8 224.8 497.2 224.8 496.8 224.2 493.2 224.8 492.2 225.2ZM704.2 223.2 702.2 223.2 701.8 223.8 699.8 223.8 699.2 224.2 696.8 224.2 696.2 224.8 695.2 224.8 694.2 225.8 694.2 227.2 693.8 227.8 693.8 231.2 693.2 231.8 693.2 235.2 695.8 240.2 697.2 241.8 703.2 241.2 703.8 240.8 705.2 240.8 706.2 239.8 706.2 237.8 706.8 237.2 706.8 233.2 707.2 232.8 707.2 229.2 705.8 226.2 705.8 225.2ZM305.2 211.2 304.2 219.2 308.2 224.2 311.2 221.2 311.2 220.8 310.8 220.2 310.8 218.8 310.2 218.2 309.2 213.2ZM892.8 201.2 890.8 202.2 887.8 205.2 887.8 206.2 886.8 208.2 886.8 213.2 888.2 217.2 890.8 219.8 891.8 220.2 894.8 220.2 896.8 219.2 899.2 215.2 899.2 213.8 899.8 213.2 899.8 208.2 899.2 207.8 898.8 205.2 896.8 203.2 896.8 202.8 895.2 201.8ZM437.2 200.8 436.2 203.2 436.2 205.8 435.8 206.2 435.8 215.8 436.2 216.2 436.2 218.8 437.2 220.8 438.2 220.8 439.2 218.8 439.2 216.2 439.8 215.8 439.8 206.2 439.2 205.8 439.2 203.2 438.8 202.8 438.8 201.8 438.2 200.8ZM408.8 198.2 408.2 198.8 408.2 202.8 408.8 203.2 409.2 213.2 409.8 213.8 411.8 220.8 412.8 222.2 420.8 222.2 421.8 220.8 421.8 219.8 423.2 216.2 423.2 212.8 422.8 212.2 422.2 204.8 416.8 197.2 414.2 197.2 413.8 197.8ZM326.2 193.8 325.2 194.8 325.2 196.8 324.8 197.2 324.8 201.8 324.2 202.2 324.2 207.2 325.8 211.2 325.8 212.8 328.2 215.8 330.8 217.2 335.8 221.8 336.8 227.2 337.8 229.2 342.2 235.8 343.8 238.8 348.2 242.8 347.2 243.2 347.2 244.2 348.2 246.8 348.2 248.8 348.8 249.2 348.8 250.8 349.8 253.2 349.8 255.2 350.8 257.8 350.8 259.8 351.2 260.2 351.2 261.8 352.2 264.2 352.2 266.2 352.8 266.8 352.8 268.2 353.2 268.8 353.2 270.2 353.8 270.8 353.8 272.2 354.2 272.8 354.2 274.2 354.8 274.8 354.8 276.2 355.2 276.8 356.8 284.2 357.2 285.2 360.8 285.2 361.2 285.8 361.2 293.8 361.8 294.2 361.8 298.8 362.2 299.2 362.2 303.8 362.8 304.2 362.8 305.8 365.8 303.2 371.8 303.2 374.8 305.2 377.8 301.2 377.8 285.8 378.2 285.2 385.2 285.2 385.2 243.2 377.2 243.2 376.8 242.8 376.8 240.2 376.2 239.8 375.2 232.8 371.8 223.2 371.8 209.8 368.8 205.2 368.2 203.8 367.2 202.8 366.8 201.2 364.8 199.2 357.2 194.2 354.2 194.2 353.8 194.8 351.8 194.8 351.2 195.2 349.2 195.2 348.8 195.8 346.8 195.8 346.2 196.2 345.8 195.8 341.8 195.2 339.2 194.2ZM612.2 191.8 612.8 201.2 613.2 201.8 613.2 203.8 613.8 204.2 616.2 204.8 618.2 205.8 619.8 205.8 621.8 206.8 623.2 206.8 625.2 207.8 626.8 207.8 627.2 208.2 635.2 208.8 635.8 209.2 640.2 209.2 640.8 209.8 642.8 216.8 647.8 219.2 650.8 219.2 658.2 215.2 665.8 214.8 666.2 214.2 676.8 215.2 682.8 220.2 685.8 220.2 686.2 219.8 687.8 219.8 689.2 218.8 689.8 215.2 690.2 214.8 690.2 212.8 690.8 212.2 690.8 210.2 691.2 209.8 691.2 206.8 686.8 200.2 683.2 199.8 682.8 199.2 680.8 199.2 680.2 198.8 678.2 198.8 677.8 198.2 673.2 198.2 672.8 198.8 669.8 198.8 669.2 199.2 665.8 199.2 665.2 199.8 659.2 200.2 658.8 200.8 656.8 200.8 656.2 201.2 654.2 201.2 653.8 201.8 651.8 201.8 651.2 202.2 649.2 202.2 648.8 202.8 646.8 202.8 646.2 203.2 642.8 203.8 630.8 197.8 629.2 196.2 621.8 191.2 612.8 191.2ZM379.8 187.2 379.2 187.8 379.2 191.8 379.8 192.2 379.8 197.8 380.2 198.2 380.2 201.2 381.2 202.8 381.2 203.8 382.2 205.2 383.2 208.8 384.8 211.2 386.8 212.2 387.8 212.2 389.2 213.2 390.8 213.2 394.8 207.8 397.2 202.8 397.2 201.8 399.2 198.2 399.2 187.8 397.2 186.8 393.2 186.2 390.8 185.2 387.8 185.2 387.2 185.8Z"/>
<path fill="#565656" fill-rule="evenodd" d="M845.2 345.2 845.2 358.8 876.2 358.8 877.2 351.8 876.2 350.2 876.2 349.2 874.2 344.2 871.8 344.2 871.2 343.8 865.8 343.8 865.2 343.2 860.2 343.2 859.8 343.8 856.2 343.8 855.8 344.2 851.8 344.2 851.2 344.8ZM620.2 330.2 618.2 328.8 617.2 328.8 615.2 327.8 609.8 327.2 609.2 326.8 604.2 326.8 603.8 326.2 600.8 327.8 596.8 327.8 596.2 328.2 591.8 328.2 591.2 327.8 583.8 327.2 583.2 327.8 581.2 327.8 577.2 329.2 576.2 330.2 576.2 331.2 576.8 332.2 577.8 332.2 579.2 333.2 582.2 333.8 582.8 334.2 585.2 334.2 585.8 334.8 589.2 334.8 589.8 335.2 606.2 335.2 606.8 334.8 610.8 334.8 611.2 334.2 613.8 334.2 614.2 333.8 617.2 333.2 618.8 332.2 619.8 332.2ZM552.2 328.2 548.8 326.2 545.2 325.8 542.8 324.8 535.2 324.2 534.8 323.8 525.8 323.8 525.2 323.2 507.8 323.8 507.2 324.2 503.2 324.2 502.8 324.8 499.8 324.8 499.2 325.2 495.8 325.2 495.2 324.8 485.8 324.8 485.2 324.2 481.8 324.2 481.2 323.8 481.2 322.2 476.2 322.2 475.8 321.8 465.8 321.8 465.2 321.2 458.2 321.2 457.8 321.8 453.2 321.8 452.8 322.2 448.8 322.2 448.2 322.8 443.8 322.8 443.2 323.2 441.2 323.2 441.2 325.8 440.8 326.2 434.8 326.8 434.2 326.2 434.2 324.2 431.8 324.2 430.8 323.8 429.2 324.8 427.2 324.8 426.8 325.2 424.8 325.2 424.2 325.8 423.8 325.2 419.2 324.8 416.2 322.8 413.8 322.8 413.2 322.2 407.8 322.2 407.2 322.8 402.8 322.8 402.2 323.2 397.2 323.2 396.8 323.8 389.2 324.2 389.2 328.8 388.8 329.2 368.8 329.8 368.2 330.2 357.2 330.2 356.8 330.8 346.2 330.8 345.8 331.2 330.8 331.2 330.2 331.8 281.2 332.2 280.8 332.8 258.8 332.8 258.2 333.2 247.2 333.8 246.8 334.2 241.8 334.2 241.2 334.8 236.2 334.8 235.8 335.2 230.2 335.2 229.8 335.8 185.8 335.8 185.2 336.2 178.2 336.8 177.8 337.2 174.8 337.2 174.2 337.8 171.2 337.8 170.8 338.2 167.2 338.2 166.8 338.8 156.8 338.8 156.2 339.2 127.2 339.2 127.2 348.8 156.2 348.8 156.8 348.2 176.2 348.2 176.8 347.8 304.2 347.2 304.8 346.8 312.2 346.8 312.8 346.2 320.2 346.2 320.8 345.8 328.2 345.8 328.8 345.2 341.8 344.8 342.2 344.2 345.8 344.2 346.2 343.8 353.2 343.2 353.8 342.8 360.8 342.2 361.2 341.8 368.2 341.2 368.8 340.8 375.8 340.2 376.2 339.8 383.2 339.2 383.8 338.8 490.2 338.8 490.8 338.2 500.2 338.2 500.2 333.8 500.8 333.2 509.2 333.8 509.8 334.2 532.8 334.2 533.2 333.8 538.2 333.8 538.8 333.2 541.8 333.2 542.2 332.8 544.8 332.8 545.2 332.2 548.8 331.8 550.8 330.8 552.2 329.2ZM646.8 318.8 646.8 320.2 648.8 322.2 652.2 322.8 652.8 323.2 655.2 323.2 657.2 324.2 661.8 324.2 662.2 323.8 667.2 323.2 667.8 322.8 668.8 322.8 671.8 320.2 671.8 318.8 670.8 317.2 669.8 317.2 668.8 316.2 667.8 316.2 666.2 315.2 663.2 315.2 662.8 314.8 655.2 314.8 654.8 315.2 652.8 315.2 647.8 317.2ZM515.2 310.2 515.8 312.2 517.8 313.8 518.8 313.8 520.2 314.8 523.8 315.2 524.2 315.8 527.8 315.8 528.2 316.2 538.2 316.2 538.8 315.8 544.8 315.2 546.2 314.2 547.8 314.2 549.8 313.2 551.2 311.2 550.8 309.2 547.8 307.2 546.2 307.2 544.8 306.2 542.8 306.2 542.2 305.8 538.8 305.8 538.2 305.2 528.2 305.2 527.8 305.8 524.2 305.8 523.8 306.2 520.2 306.8 517.8 308.2 516.8 308.2ZM368.8 260.8 367.8 262.8 367.2 265.2 366.2 266.8 365.8 269.2 364.8 270.8 364.2 273.2 363.2 274.8 362.8 292.8 363.2 293.2 363.8 302.8 364.2 303.2 365.8 302.2 371.8 302.2 373.8 303.2 376.2 300.2 376.2 278.8 375.8 278.2 375.8 276.8 373.8 271.2 373.8 269.8 372.8 267.8 372.8 266.2ZM494.2 225.8 493.2 227.2 494.2 228.8 495.8 228.8 496.2 228.2 496.2 226.2 495.8 225.8ZM703.8 224.8 695.8 226.2 694.8 234.8 697.8 240.2 704.8 239.2 705.8 229.8ZM892.8 203.2 891.8 204.2 890.2 208.2 890.2 213.8 891.8 217.8 892.2 218.2 894.2 218.2 895.8 215.8 895.8 214.2 896.2 213.8 896.2 208.2 894.8 204.2 893.8 203.2ZM409.2 199.2 410.2 212.8 410.8 213.2 413.2 221.2 420.2 221.2 422.2 215.8 421.2 205.2 416.2 198.2ZM327.2 195.2 326.8 195.8 326.8 197.8 326.2 198.2 325.8 206.2 326.2 206.8 326.2 208.2 326.8 208.8 327.8 212.8 336.8 219.8 337.2 222.2 337.8 222.8 337.8 224.2 338.2 224.8 338.2 226.2 345.2 237.8 355.8 246.2 365.8 252.2 371.2 258.8 374.8 252.2 375.2 247.2 375.8 246.8 375.8 244.2 375.2 243.8 375.2 241.2 374.8 240.8 373.8 233.8 370.2 224.2 370.2 210.8 367.2 206.2 366.8 204.8 365.8 203.8 365.2 202.2 363.8 200.8 356.2 195.8 352.8 196.2 352.2 196.8 350.2 196.8 349.8 197.2 347.8 197.2 347.2 197.8 345.2 197.8 344.8 197.2 340.8 196.8 338.2 195.8ZM613.8 192.8 614.8 202.8 617.2 203.2 619.2 204.2 620.8 204.2 622.8 205.2 624.2 205.2 626.2 206.2 627.8 206.2 628.2 206.8 636.2 207.2 636.8 207.8 638.8 207.8 640.8 205.2 641.8 206.8 641.8 208.2 642.2 208.8 644.2 215.8 646.2 216.8 647.2 216.8 648.8 217.8 649.8 217.8 657.2 213.8 664.8 213.2 665.2 212.8 669.8 212.8 670.2 213.2 677.8 213.8 683.8 218.8 687.8 217.8 687.8 216.8 688.2 216.2 688.2 214.2 688.8 213.8 688.8 211.8 689.2 211.2 689.8 207.8 686.2 202.2 684.2 201.2 682.2 201.2 681.8 200.8 679.8 200.8 679.2 200.2 677.2 200.2 676.8 199.8 674.2 199.8 673.8 200.2 670.8 200.2 670.2 200.8 666.8 200.8 666.2 201.2 660.2 201.8 659.8 202.2 657.8 202.2 657.2 202.8 655.2 202.8 654.8 203.2 652.8 203.2 652.2 203.8 650.2 203.8 649.8 204.2 647.8 204.2 647.2 204.8 645.2 204.8 644.8 205.2 641.2 205.8 640.8 205.2 641.2 204.8 629.8 199.2 628.2 197.8 620.8 192.8ZM388.2 186.2 387.8 186.8 380.2 188.2 380.2 191.2 380.8 191.8 380.8 197.2 381.2 197.8 381.2 200.8 382.2 202.2 382.2 203.2 383.2 204.8 384.2 208.2 385.2 210.2 390.2 212.2 393.8 207.2 396.2 202.2 396.2 201.2 398.2 197.8 398.2 188.2 395.2 187.8 394.8 187.2 392.8 187.2 390.2 186.2Z"/></g>
<line x1="128" y1="321.5" x2="1094" y2="321.5" stroke="#606060" stroke-width="1" stroke-dasharray="1 1"/>
<line x1="128" y1="284.5" x2="1094" y2="284.5" stroke="#606060" stroke-width="1" stroke-dasharray="1 1"/>
<line x1="128" y1="247.5" x2="1094" y2="247.5" stroke="#606060" stroke-width="1" stroke-dasharray="1 1"/>
<line x1="128" y1="209.5" x2="1094" y2="209.5" stroke="#606060" stroke-width="1" stroke-dasharray="1 1"/>
<line x1="128" y1="172.5" x2="1094" y2="172.5" stroke="#606060" stroke-width="1" stroke-dasharray="1 1"/>
<line x1="128" y1="338.5" x2="1094" y2="338.5" stroke="#404040" stroke-width="1"/>
<line x1="265.5" y1="98" x2="265.5" y2="358" stroke="#8c8c8c" stroke-width="1"/>
<line x1="403.5" y1="98" x2="403.5" y2="358" stroke="#8c8c8c" stroke-width="1"/>
<line x1="541.5" y1="98" x2="541.5" y2="358" stroke="#8c8c8c" stroke-width="1"/>
<line x1="680.5" y1="98" x2="680.5" y2="358" stroke="#8c8c8c" stroke-width="1"/>
<line x1="818.5" y1="98" x2="818.5" y2="358" stroke="#8c8c8c" stroke-width="1"/>
<line x1="956.5" y1="98" x2="956.5" y2="358" stroke="#8c8c8c" stroke-width="1"/>
<!--BARS-->
<rect x="337.89" y="351" width="4.0" height="8" fill="#0048ff"/>
<rect x="343.65" y="344.1" width="4.0" height="14.9" fill="#0048ff"/>
<rect x="349.41" y="336" width="4.0" height="23" fill="#0048ff"/>
<rect x="355.18" y="310" width="4.0" height="49" fill="#0048ff"/>
<rect x="360.94" y="287.6" width="4.0" height="71.4" fill="#0048ff"/>
<rect x="366.7" y="329.1" width="4.0" height="29.9" fill="#0048ff"/>
<rect x="372.46" y="321" width="4.0" height="38" fill="#0048ff"/>
<rect x="378.22" y="269" width="4.0" height="90" fill="#0048ff"/>
<rect x="383.99" y="318" width="4.0" height="41" fill="#0048ff"/>
<rect x="389.75" y="355" width="4.0" height="4" fill="#0048ff"/>
<rect x="533.8" y="355" width="4.0" height="4" fill="#0048ff"/>
<rect x="539.56" y="355" width="4.0" height="4" fill="#0048ff"/>
<rect x="545.32" y="352.1" width="4.0" height="6.9" fill="#0048ff"/>
<rect x="551.08" y="349" width="4.0" height="10" fill="#0048ff"/>
<rect x="556.84" y="345" width="4.0" height="14" fill="#0048ff"/>
<rect x="562.6" y="342.9" width="4.0" height="16.1" fill="#0048ff"/>
<rect x="568.37" y="344.1" width="4.0" height="14.9" fill="#0048ff"/>
<rect x="574.13" y="348.1" width="4.0" height="10.9" fill="#0048ff"/>
<rect x="579.89" y="351.1" width="4.0" height="7.9" fill="#0048ff"/>
<rect x="585.65" y="353" width="4.0" height="6" fill="#0048ff"/>
<rect x="591.41" y="354.1" width="4.0" height="4.9" fill="#0048ff"/>
<rect x="597.18" y="355" width="4.0" height="4" fill="#0048ff"/>
<rect x="602.94" y="356" width="4.0" height="3" fill="#0048ff"/>
<rect x="608.7" y="357.7" width="4.0" height="1.3" fill="#0048ff"/>
<rect x="677.84" y="356.9" width="4.0" height="2.1" fill="#0048ff"/>
<rect x="689.37" y="356.9" width="4.0" height="2.1" fill="#0048ff"/>
<rect x="695.13" y="356" width="4.0" height="3" fill="#0048ff"/>
<rect x="700.89" y="351.9" width="4.0" height="7.1" fill="#0048ff"/>
<rect x="706.65" y="348" width="4.0" height="11" fill="#0048ff"/>
<rect x="712.41" y="341.8" width="4.0" height="17.2" fill="#0048ff"/>
<rect x="718.18" y="331" width="4.0" height="28" fill="#0048ff"/>
<rect x="723.94" y="310" width="4.0" height="49" fill="#0048ff"/>
<rect x="729.7" y="283.7" width="4.0" height="75.3" fill="#0048ff"/>
<rect x="735.46" y="269.2" width="4.0" height="89.8" fill="#0048ff"/>
<rect x="741.22" y="273.1" width="4.0" height="85.9" fill="#0048ff"/>
<rect x="746.99" y="288.1" width="4.0" height="70.9" fill="#0048ff"/>
<rect x="752.75" y="304.9" width="4.0" height="54.1" fill="#0048ff"/>
<rect x="758.51" y="324" width="4.0" height="35" fill="#0048ff"/>
<rect x="764.27" y="344" width="4.0" height="15" fill="#0048ff"/>
<path d="M127 306.9 L137.9 308.1 L149.7 310.2 L161.4 307.8 L172.3 305.5 L181.7 301.9 L191 298.3 L200.4 296.9 L206.7 294.8 L212.6 292.2 L217.6 294.1 L223.9 297.2 L230.1 299.4 L245.75 299.8 L264.5 300.3 L283.25 301.25 L298.9 303.4 L307.8 300.6 L316.9 294.1 L326 286.7 L332.6 283.3 L339 282.8 L346.9 284.1 L356 287.6 L365.1 291.5 L370.3 292.4 L378.1 291.5 L391.1 289.5 L400.3 287.6 L408.1 285.9 L417.2 286.9 L427.6 288.9 L436.7 290.2 L443.2 289.3 L447.8 287.2 L458.75 279.7 L471.25 270.3 L479 265.2 L485.3 263.6 L491.6 264 L502.5 266.4 L513.4 268.3 L527.5 269.5 L540 270.6 L549.4 273.4 L558.75 277.3 L565 278.6 L574.4 278.4 L580.6 276.25 L596.25 268.75 L610 263 L620.9 261.1 L628.75 263 L644.4 270 L672.5 275.5 L695.9 277.8 L713.1 278.9 L722.5 275.5 L735 264.6 L745.9 252.8 L753.75 244.6 L760 244.25 L766.25 247.4 L778.75 259.9 L791.3 271.2 L805.5 280.7 L822.9 292.5 L835.6 298 L846.6 302.8 L852.9 303.1 L859.2 301.2 L865.6 295.7 L873.5 283.8 L882.9 266.4 L892.4 249.1 L898 246.2 L903.5 248.3 L919.3 261.7 L933.5 270.4 L944.6 279.1 L955.6 284.6 L972.9 289.3 L991.1 297.5 L996.4 297 L1002.9 291.9 L1009.3 280.8 L1017.9 257.2 L1024.3 233.6 L1030.8 219.6 L1036.8 217.1 L1042.5 220.7 L1056.5 240 L1071.5 260.4 L1084.4 273.3 L1094 284" fill="none" stroke="#ff0000" stroke-width="2.7" stroke-linejoin="round" stroke-linecap="round"/>
<text x="149.3" y="332" class="dv" font-size="17.5" text-anchor="middle">3</text>
<text x="213.5" y="314.7" class="dv" font-size="17.5" text-anchor="middle">4</text>
<text x="299.5" y="325.4" class="dv" font-size="17.5" text-anchor="middle">3</text>
<text x="339.9" y="305.4" class="dv" font-size="17.5" text-anchor="middle">5</text>
<text x="369.4" y="314.1" class="dv" font-size="17.5" text-anchor="middle">4</text>
<text x="484.6" y="284.9" class="dv" font-size="17.5" text-anchor="middle">7</text>
<text x="570.4" y="301" class="dv" font-size="17.5" text-anchor="middle">6</text>
<text x="622.1" y="283.3" class="dv" font-size="17.5" text-anchor="middle">7</text>
<text x="708.5" y="299.9" class="dv" font-size="17.5" text-anchor="middle">6</text>
<text x="760.6" y="266.6" class="dv" font-size="17.5" text-anchor="middle">9</text>
<text x="853" y="326.4" class="dv" font-size="17.5" text-anchor="middle">3</text>
<text x="898.5" y="268.1" class="dv" font-size="17.5" text-anchor="middle">9</text>
<text x="991.7" y="320.1" class="dv" font-size="17.5" text-anchor="middle">4</text>
<text x="1036.5" y="238.8" class="dv" font-size="17.5" text-anchor="middle">12</text>
<text x="1094" y="306.6" class="dv" font-size="17.5" text-anchor="middle">5</text>
<line x1="220.1" y1="97" x2="220.1" y2="359" stroke="#111" stroke-width="2" stroke-dasharray="5.4 2.75"/>
<g><path d="M144.49 101 A12.58 12.58 0 1 0 144.49 126 A17.39 17.39 0 0 1 144.49 101 Z" fill="#ffffff" stroke="#000" stroke-width="1.5" stroke-linejoin="round"/><circle cx="139.79" cy="120.5" r="4.8" fill="#2b4f7a" stroke="#2b4f7a" stroke-width="2.9"/><circle cx="147.99" cy="116.5" r="5.5" fill="#2b4f7a" stroke="#2b4f7a" stroke-width="2.9"/><circle cx="154.29" cy="121" r="5" fill="#2b4f7a" stroke="#2b4f7a" stroke-width="2.9"/><rect x="139.79" y="118" width="14.5" height="8" fill="#2b4f7a" stroke="#2b4f7a" stroke-width="2.9"/><circle cx="139.79" cy="120.5" r="4.8" fill="#d2d2d2"/><circle cx="147.99" cy="116.5" r="5.5" fill="#d2d2d2"/><circle cx="154.29" cy="121" r="5" fill="#d2d2d2"/><rect x="139.79" y="118" width="14.5" height="8" fill="#d2d2d2"/><path d="M149.59 119.29 A5 5 0 0 1 156.79 116.67" fill="none" stroke="#2b4f7a" stroke-width="1.2"/></g>
<g><circle cx="166.86" cy="117.6" r="5.3" fill="#2a62be" stroke="#2a62be" stroke-width="2.9"/><circle cx="176.86" cy="111.4" r="5.8" fill="#2a62be" stroke="#2a62be" stroke-width="2.9"/><circle cx="188.46" cy="115.6" r="6" fill="#2a62be" stroke="#2a62be" stroke-width="2.9"/><rect x="166.86" y="114" width="21.6" height="9" fill="#2a62be" stroke="#2a62be" stroke-width="2.9"/><circle cx="166.86" cy="117.6" r="5.3" fill="#d2d2d2"/><circle cx="176.86" cy="111.4" r="5.8" fill="#d2d2d2"/><circle cx="188.46" cy="115.6" r="6" fill="#d2d2d2"/><rect x="166.86" y="114" width="21.6" height="9" fill="#d2d2d2"/><circle cx="174.56" cy="120.4" r="4.6" fill="#2a62be" stroke="#2a62be" stroke-width="2.9"/><circle cx="181.16" cy="116.8" r="4.5" fill="#2a62be" stroke="#2a62be" stroke-width="2.9"/><circle cx="187.66" cy="120.9" r="4.4" fill="#2a62be" stroke="#2a62be" stroke-width="2.9"/><rect x="174.56" y="119" width="13.1" height="6.2" fill="#2a62be" stroke="#2a62be" stroke-width="2.9"/><circle cx="174.56" cy="120.4" r="4.6" fill="#fbfbfb"/><circle cx="181.16" cy="116.8" r="4.5" fill="#fbfbfb"/><circle cx="187.66" cy="120.9" r="4.4" fill="#fbfbfb"/><rect x="174.56" y="119" width="13.1" height="6.2" fill="#fbfbfb"/><path d="M183.52 119.4 A4.4 4.4 0 0 1 189.86 117.09" fill="none" stroke="#2a62be" stroke-width="1.2"/></g>
<g><circle cx="201.43" cy="117.6" r="5.3" fill="#2a62be" stroke="#2a62be" stroke-width="2.9"/><circle cx="211.43" cy="111.4" r="5.8" fill="#2a62be" stroke="#2a62be" stroke-width="2.9"/><circle cx="223.03" cy="115.6" r="6" fill="#2a62be" stroke="#2a62be" stroke-width="2.9"/><rect x="201.43" y="114" width="21.6" height="9" fill="#2a62be" stroke="#2a62be" stroke-width="2.9"/><circle cx="201.43" cy="117.6" r="5.3" fill="#d2d2d2"/><circle cx="211.43" cy="111.4" r="5.8" fill="#d2d2d2"/><circle cx="223.03" cy="115.6" r="6" fill="#d2d2d2"/><rect x="201.43" y="114" width="21.6" height="9" fill="#d2d2d2"/><circle cx="209.13" cy="120.4" r="4.6" fill="#2a62be" stroke="#2a62be" stroke-width="2.9"/><circle cx="215.73" cy="116.8" r="4.5" fill="#2a62be" stroke="#2a62be" stroke-width="2.9"/><circle cx="222.23" cy="120.9" r="4.4" fill="#2a62be" stroke="#2a62be" stroke-width="2.9"/><rect x="209.13" y="119" width="13.1" height="6.2" fill="#2a62be" stroke="#2a62be" stroke-width="2.9"/><circle cx="209.13" cy="120.4" r="4.6" fill="#fbfbfb"/><circle cx="215.73" cy="116.8" r="4.5" fill="#fbfbfb"/><circle cx="222.23" cy="120.9" r="4.4" fill="#fbfbfb"/><rect x="209.13" y="119" width="13.1" height="6.2" fill="#fbfbfb"/><path d="M218.09 119.4 A4.4 4.4 0 0 1 224.43 117.09" fill="none" stroke="#2a62be" stroke-width="1.2"/></g>
<g><circle cx="236" cy="117.6" r="5.3" fill="#2b4f7a" stroke="#2b4f7a" stroke-width="2.9"/><circle cx="246" cy="111.4" r="5.8" fill="#2b4f7a" stroke="#2b4f7a" stroke-width="2.9"/><circle cx="257.6" cy="115.6" r="6" fill="#2b4f7a" stroke="#2b4f7a" stroke-width="2.9"/><rect x="236" y="114" width="21.6" height="9" fill="#2b4f7a" stroke="#2b4f7a" stroke-width="2.9"/><circle cx="236" cy="117.6" r="5.3" fill="#d2d2d2"/><circle cx="246" cy="111.4" r="5.8" fill="#d2d2d2"/><circle cx="257.6" cy="115.6" r="6" fill="#d2d2d2"/><rect x="236" y="114" width="21.6" height="9" fill="#d2d2d2"/><circle cx="243.7" cy="120.4" r="4.6" fill="#2b4f7a" stroke="#2b4f7a" stroke-width="2.9"/><circle cx="250.3" cy="116.8" r="4.5" fill="#2b4f7a" stroke="#2b4f7a" stroke-width="2.9"/><circle cx="256.8" cy="120.9" r="4.4" fill="#2b4f7a" stroke="#2b4f7a" stroke-width="2.9"/><rect x="243.7" y="119" width="13.1" height="6.2" fill="#2b4f7a" stroke="#2b4f7a" stroke-width="2.9"/><circle cx="243.7" cy="120.4" r="4.6" fill="#fbfbfb"/><circle cx="250.3" cy="116.8" r="4.5" fill="#fbfbfb"/><circle cx="256.8" cy="120.9" r="4.4" fill="#fbfbfb"/><rect x="243.7" y="119" width="13.1" height="6.2" fill="#fbfbfb"/><path d="M252.67 119.4 A4.4 4.4 0 0 1 259 117.09" fill="none" stroke="#2b4f7a" stroke-width="1.2"/></g>
<g><path d="M286.97 101 A12.57 12.57 0 1 0 286.97 126 A16.56 16.56 0 0 1 286.97 101 Z" fill="#ffffff" stroke="#000" stroke-width="1.5" stroke-linejoin="round"/><rect x="264.37" y="115.4" width="35" height="3.4" fill="#ffffff" stroke="#2b4f7a" stroke-width="1.6"/><rect x="267.17" y="122.2" width="31.7" height="2.4" fill="#2b4f7a"/></g>
<g><circle cx="305.14" cy="117.6" r="5.3" fill="#2a62be" stroke="#2a62be" stroke-width="2.9"/><circle cx="315.14" cy="111.4" r="5.8" fill="#2a62be" stroke="#2a62be" stroke-width="2.9"/><circle cx="326.74" cy="115.6" r="6" fill="#2a62be" stroke="#2a62be" stroke-width="2.9"/><rect x="305.14" y="114" width="21.6" height="9" fill="#2a62be" stroke="#2a62be" stroke-width="2.9"/><circle cx="305.14" cy="117.6" r="5.3" fill="#d2d2d2"/><circle cx="315.14" cy="111.4" r="5.8" fill="#d2d2d2"/><circle cx="326.74" cy="115.6" r="6" fill="#d2d2d2"/><rect x="305.14" y="114" width="21.6" height="9" fill="#d2d2d2"/><circle cx="312.84" cy="120.4" r="4.6" fill="#2a62be" stroke="#2a62be" stroke-width="2.9"/><circle cx="319.44" cy="116.8" r="4.5" fill="#2a62be" stroke="#2a62be" stroke-width="2.9"/><circle cx="325.94" cy="120.9" r="4.4" fill="#2a62be" stroke="#2a62be" stroke-width="2.9"/><rect x="312.84" y="119" width="13.1" height="6.2" fill="#2a62be" stroke="#2a62be" stroke-width="2.9"/><circle cx="312.84" cy="120.4" r="4.6" fill="#fbfbfb"/><circle cx="319.44" cy="116.8" r="4.5" fill="#fbfbfb"/><circle cx="325.94" cy="120.9" r="4.4" fill="#fbfbfb"/><rect x="312.84" y="119" width="13.1" height="6.2" fill="#fbfbfb"/><path d="M321.81 119.4 A4.4 4.4 0 0 1 328.14 117.09" fill="none" stroke="#2a62be" stroke-width="1.2"/></g>
<g><circle cx="339.71" cy="117.6" r="5.3" fill="#2a62be" stroke="#2a62be" stroke-width="2.9"/><circle cx="349.71" cy="111.4" r="5.8" fill="#2a62be" stroke="#2a62be" stroke-width="2.9"/><circle cx="361.31" cy="115.6" r="6" fill="#2a62be" stroke="#2a62be" stroke-width="2.9"/><rect x="339.71" y="114" width="21.6" height="9" fill="#2a62be" stroke="#2a62be" stroke-width="2.9"/><circle cx="339.71" cy="117.6" r="5.3" fill="#d2d2d2"/><circle cx="349.71" cy="111.4" r="5.8" fill="#d2d2d2"/><circle cx="361.31" cy="115.6" r="6" fill="#d2d2d2"/><rect x="339.71" y="114" width="21.6" height="9" fill="#d2d2d2"/><circle cx="347.41" cy="120.4" r="4.6" fill="#2a62be" stroke="#2a62be" stroke-width="2.9"/><circle cx="354.01" cy="116.8" r="4.5" fill="#2a62be" stroke="#2a62be" stroke-width="2.9"/><circle cx="360.51" cy="120.9" r="4.4" fill="#2a62be" stroke="#2a62be" stroke-width="2.9"/><rect x="347.41" y="119" width="13.1" height="6.2" fill="#2a62be" stroke="#2a62be" stroke-width="2.9"/><circle cx="347.41" cy="120.4" r="4.6" fill="#fbfbfb"/><circle cx="354.01" cy="116.8" r="4.5" fill="#fbfbfb"/><circle cx="360.51" cy="120.9" r="4.4" fill="#fbfbfb"/><rect x="347.41" y="119" width="13.1" height="6.2" fill="#fbfbfb"/><path d="M356.38 119.4 A4.4 4.4 0 0 1 362.71 117.09" fill="none" stroke="#2a62be" stroke-width="1.2"/><line x1="345.81" y1="128.2" x2="344.61" y2="133.8" stroke="#3d6cc0" stroke-width="1.8"/><line x1="350.41" y1="128.2" x2="349.21" y2="133.8" stroke="#3d6cc0" stroke-width="1.8"/><line x1="355.01" y1="128.2" x2="353.81" y2="133.8" stroke="#3d6cc0" stroke-width="1.8"/><line x1="359.61" y1="128.2" x2="358.41" y2="133.8" stroke="#3d6cc0" stroke-width="1.8"/></g>
<g><circle cx="374.29" cy="117.6" r="5.3" fill="#2b4f7a" stroke="#2b4f7a" stroke-width="2.9"/><circle cx="384.29" cy="111.4" r="5.8" fill="#2b4f7a" stroke="#2b4f7a" stroke-width="2.9"/><circle cx="395.89" cy="115.6" r="6" fill="#2b4f7a" stroke="#2b4f7a" stroke-width="2.9"/><rect x="374.29" y="114" width="21.6" height="9" fill="#2b4f7a" stroke="#2b4f7a" stroke-width="2.9"/><circle cx="374.29" cy="117.6" r="5.3" fill="#d2d2d2"/><circle cx="384.29" cy="111.4" r="5.8" fill="#d2d2d2"/><circle cx="395.89" cy="115.6" r="6" fill="#d2d2d2"/><rect x="374.29" y="114" width="21.6" height="9" fill="#d2d2d2"/><circle cx="381.99" cy="120.4" r="4.6" fill="#2b4f7a" stroke="#2b4f7a" stroke-width="2.9"/><circle cx="388.59" cy="116.8" r="4.5" fill="#2b4f7a" stroke="#2b4f7a" stroke-width="2.9"/><circle cx="395.09" cy="120.9" r="4.4" fill="#2b4f7a" stroke="#2b4f7a" stroke-width="2.9"/><rect x="381.99" y="119" width="13.1" height="6.2" fill="#2b4f7a" stroke="#2b4f7a" stroke-width="2.9"/><circle cx="381.99" cy="120.4" r="4.6" fill="#fbfbfb"/><circle cx="388.59" cy="116.8" r="4.5" fill="#fbfbfb"/><circle cx="395.09" cy="120.9" r="4.4" fill="#fbfbfb"/><rect x="381.99" y="119" width="13.1" height="6.2" fill="#fbfbfb"/><path d="M390.95 119.4 A4.4 4.4 0 0 1 397.29 117.09" fill="none" stroke="#2b4f7a" stroke-width="1.2"/><line x1="383.69" y1="128.2" x2="382.49" y2="133.8" stroke="#2b4f7a" stroke-width="1.8"/><line x1="388.29" y1="128.2" x2="387.09" y2="133.8" stroke="#2b4f7a" stroke-width="1.8"/></g>
<g><circle cx="408.86" cy="117.6" r="5.3" fill="#2b4f7a" stroke="#2b4f7a" stroke-width="2.9"/><circle cx="418.86" cy="111.4" r="5.8" fill="#2b4f7a" stroke="#2b4f7a" stroke-width="2.9"/><circle cx="430.46" cy="115.6" r="6" fill="#2b4f7a" stroke="#2b4f7a" stroke-width="2.9"/><rect x="408.86" y="114" width="21.6" height="9" fill="#2b4f7a" stroke="#2b4f7a" stroke-width="2.9"/><circle cx="408.86" cy="117.6" r="5.3" fill="#d2d2d2"/><circle cx="418.86" cy="111.4" r="5.8" fill="#d2d2d2"/><circle cx="430.46" cy="115.6" r="6" fill="#d2d2d2"/><rect x="408.86" y="114" width="21.6" height="9" fill="#d2d2d2"/><circle cx="416.56" cy="120.4" r="4.6" fill="#2b4f7a" stroke="#2b4f7a" stroke-width="2.9"/><circle cx="423.16" cy="116.8" r="4.5" fill="#2b4f7a" stroke="#2b4f7a" stroke-width="2.9"/><circle cx="429.66" cy="120.9" r="4.4" fill="#2b4f7a" stroke="#2b4f7a" stroke-width="2.9"/><rect x="416.56" y="119" width="13.1" height="6.2" fill="#2b4f7a" stroke="#2b4f7a" stroke-width="2.9"/><circle cx="416.56" cy="120.4" r="4.6" fill="#fbfbfb"/><circle cx="423.16" cy="116.8" r="4.5" fill="#fbfbfb"/><circle cx="429.66" cy="120.9" r="4.4" fill="#fbfbfb"/><rect x="416.56" y="119" width="13.1" height="6.2" fill="#fbfbfb"/><path d="M425.52 119.4 A4.4 4.4 0 0 1 431.86 117.09" fill="none" stroke="#2b4f7a" stroke-width="1.2"/></g>
<g><circle cx="443.43" cy="117.6" r="5.3" fill="#2a62be" stroke="#2a62be" stroke-width="2.9"/><circle cx="453.43" cy="111.4" r="5.8" fill="#2a62be" stroke="#2a62be" stroke-width="2.9"/><circle cx="465.03" cy="115.6" r="6" fill="#2a62be" stroke="#2a62be" stroke-width="2.9"/><rect x="443.43" y="114" width="21.6" height="9" fill="#2a62be" stroke="#2a62be" stroke-width="2.9"/><circle cx="443.43" cy="117.6" r="5.3" fill="#d2d2d2"/><circle cx="453.43" cy="111.4" r="5.8" fill="#d2d2d2"/><circle cx="465.03" cy="115.6" r="6" fill="#d2d2d2"/><rect x="443.43" y="114" width="21.6" height="9" fill="#d2d2d2"/><circle cx="451.13" cy="120.4" r="4.6" fill="#2a62be" stroke="#2a62be" stroke-width="2.9"/><circle cx="457.73" cy="116.8" r="4.5" fill="#2a62be" stroke="#2a62be" stroke-width="2.9"/><circle cx="464.23" cy="120.9" r="4.4" fill="#2a62be" stroke="#2a62be" stroke-width="2.9"/><rect x="451.13" y="119" width="13.1" height="6.2" fill="#2a62be" stroke="#2a62be" stroke-width="2.9"/><circle cx="451.13" cy="120.4" r="4.6" fill="#fbfbfb"/><circle cx="457.73" cy="116.8" r="4.5" fill="#fbfbfb"/><circle cx="464.23" cy="120.9" r="4.4" fill="#fbfbfb"/><rect x="451.13" y="119" width="13.1" height="6.2" fill="#fbfbfb"/><path d="M460.09 119.4 A4.4 4.4 0 0 1 466.43 117.09" fill="none" stroke="#2a62be" stroke-width="1.2"/></g>
<g><circle cx="478" cy="117.6" r="5.3" fill="#2a62be" stroke="#2a62be" stroke-width="2.9"/><circle cx="488" cy="111.4" r="5.8" fill="#2a62be" stroke="#2a62be" stroke-width="2.9"/><circle cx="499.6" cy="115.6" r="6" fill="#2a62be" stroke="#2a62be" stroke-width="2.9"/><rect x="478" y="114" width="21.6" height="9" fill="#2a62be" stroke="#2a62be" stroke-width="2.9"/><circle cx="478" cy="117.6" r="5.3" fill="#d2d2d2"/><circle cx="488" cy="111.4" r="5.8" fill="#d2d2d2"/><circle cx="499.6" cy="115.6" r="6" fill="#d2d2d2"/><rect x="478" y="114" width="21.6" height="9" fill="#d2d2d2"/><circle cx="485.7" cy="120.4" r="4.6" fill="#2a62be" stroke="#2a62be" stroke-width="2.9"/><circle cx="492.3" cy="116.8" r="4.5" fill="#2a62be" stroke="#2a62be" stroke-width="2.9"/><circle cx="498.8" cy="120.9" r="4.4" fill="#2a62be" stroke="#2a62be" stroke-width="2.9"/><rect x="485.7" y="119" width="13.1" height="6.2" fill="#2a62be" stroke="#2a62be" stroke-width="2.9"/><circle cx="485.7" cy="120.4" r="4.6" fill="#fbfbfb"/><circle cx="492.3" cy="116.8" r="4.5" fill="#fbfbfb"/><circle cx="498.8" cy="120.9" r="4.4" fill="#fbfbfb"/><rect x="485.7" y="119" width="13.1" height="6.2" fill="#fbfbfb"/><path d="M494.67 119.4 A4.4 4.4 0 0 1 501 117.09" fill="none" stroke="#2a62be" stroke-width="1.2"/></g>
<g><circle cx="512.57" cy="117.6" r="5.3" fill="#2b4f7a" stroke="#2b4f7a" stroke-width="2.9"/><circle cx="522.57" cy="111.4" r="5.8" fill="#2b4f7a" stroke="#2b4f7a" stroke-width="2.9"/><circle cx="534.17" cy="115.6" r="6" fill="#2b4f7a" stroke="#2b4f7a" stroke-width="2.9"/><rect x="512.57" y="114" width="21.6" height="9" fill="#2b4f7a" stroke="#2b4f7a" stroke-width="2.9"/><circle cx="512.57" cy="117.6" r="5.3" fill="#d2d2d2"/><circle cx="522.57" cy="111.4" r="5.8" fill="#d2d2d2"/><circle cx="534.17" cy="115.6" r="6" fill="#d2d2d2"/><rect x="512.57" y="114" width="21.6" height="9" fill="#d2d2d2"/><circle cx="520.27" cy="120.4" r="4.6" fill="#2b4f7a" stroke="#2b4f7a" stroke-width="2.9"/><circle cx="526.87" cy="116.8" r="4.5" fill="#2b4f7a" stroke="#2b4f7a" stroke-width="2.9"/><circle cx="533.37" cy="120.9" r="4.4" fill="#2b4f7a" stroke="#2b4f7a" stroke-width="2.9"/><rect x="520.27" y="119" width="13.1" height="6.2" fill="#2b4f7a" stroke="#2b4f7a" stroke-width="2.9"/><circle cx="520.27" cy="120.4" r="4.6" fill="#fbfbfb"/><circle cx="526.87" cy="116.8" r="4.5" fill="#fbfbfb"/><circle cx="533.37" cy="120.9" r="4.4" fill="#fbfbfb"/><rect x="520.27" y="119" width="13.1" height="6.2" fill="#fbfbfb"/><path d="M529.24 119.4 A4.4 4.4 0 0 1 535.57 117.09" fill="none" stroke="#2b4f7a" stroke-width="1.2"/><line x1="521.97" y1="128.2" x2="520.77" y2="133.8" stroke="#2b4f7a" stroke-width="1.8"/><line x1="526.57" y1="128.2" x2="525.37" y2="133.8" stroke="#2b4f7a" stroke-width="1.8"/></g>
<g><circle cx="547.14" cy="117.6" r="5.3" fill="#2b4f7a" stroke="#2b4f7a" stroke-width="2.9"/><circle cx="557.14" cy="111.4" r="5.8" fill="#2b4f7a" stroke="#2b4f7a" stroke-width="2.9"/><circle cx="568.74" cy="115.6" r="6" fill="#2b4f7a" stroke="#2b4f7a" stroke-width="2.9"/><rect x="547.14" y="114" width="21.6" height="9" fill="#2b4f7a" stroke="#2b4f7a" stroke-width="2.9"/><circle cx="547.14" cy="117.6" r="5.3" fill="#d2d2d2"/><circle cx="557.14" cy="111.4" r="5.8" fill="#d2d2d2"/><circle cx="568.74" cy="115.6" r="6" fill="#d2d2d2"/><rect x="547.14" y="114" width="21.6" height="9" fill="#d2d2d2"/><circle cx="554.84" cy="120.4" r="4.6" fill="#2b4f7a" stroke="#2b4f7a" stroke-width="2.9"/><circle cx="561.44" cy="116.8" r="4.5" fill="#2b4f7a" stroke="#2b4f7a" stroke-width="2.9"/><circle cx="567.94" cy="120.9" r="4.4" fill="#2b4f7a" stroke="#2b4f7a" stroke-width="2.9"/><rect x="554.84" y="119" width="13.1" height="6.2" fill="#2b4f7a" stroke="#2b4f7a" stroke-width="2.9"/><circle cx="554.84" cy="120.4" r="4.6" fill="#fbfbfb"/><circle cx="561.44" cy="116.8" r="4.5" fill="#fbfbfb"/><circle cx="567.94" cy="120.9" r="4.4" fill="#fbfbfb"/><rect x="554.84" y="119" width="13.1" height="6.2" fill="#fbfbfb"/><path d="M563.81 119.4 A4.4 4.4 0 0 1 570.14 117.09" fill="none" stroke="#2b4f7a" stroke-width="1.2"/><line x1="556.54" y1="128.2" x2="555.34" y2="133.8" stroke="#2b4f7a" stroke-width="1.8"/><line x1="561.14" y1="128.2" x2="559.94" y2="133.8" stroke="#2b4f7a" stroke-width="1.8"/></g>
<g><circle cx="581.71" cy="117.6" r="5.3" fill="#2a62be" stroke="#2a62be" stroke-width="2.9"/><circle cx="591.71" cy="111.4" r="5.8" fill="#2a62be" stroke="#2a62be" stroke-width="2.9"/><circle cx="603.31" cy="115.6" r="6" fill="#2a62be" stroke="#2a62be" stroke-width="2.9"/><rect x="581.71" y="114" width="21.6" height="9" fill="#2a62be" stroke="#2a62be" stroke-width="2.9"/><circle cx="581.71" cy="117.6" r="5.3" fill="#d2d2d2"/><circle cx="591.71" cy="111.4" r="5.8" fill="#d2d2d2"/><circle cx="603.31" cy="115.6" r="6" fill="#d2d2d2"/><rect x="581.71" y="114" width="21.6" height="9" fill="#d2d2d2"/><circle cx="589.41" cy="120.4" r="4.6" fill="#2a62be" stroke="#2a62be" stroke-width="2.9"/><circle cx="596.01" cy="116.8" r="4.5" fill="#2a62be" stroke="#2a62be" stroke-width="2.9"/><circle cx="602.51" cy="120.9" r="4.4" fill="#2a62be" stroke="#2a62be" stroke-width="2.9"/><rect x="589.41" y="119" width="13.1" height="6.2" fill="#2a62be" stroke="#2a62be" stroke-width="2.9"/><circle cx="589.41" cy="120.4" r="4.6" fill="#fbfbfb"/><circle cx="596.01" cy="116.8" r="4.5" fill="#fbfbfb"/><circle cx="602.51" cy="120.9" r="4.4" fill="#fbfbfb"/><rect x="589.41" y="119" width="13.1" height="6.2" fill="#fbfbfb"/><path d="M598.38 119.4 A4.4 4.4 0 0 1 604.71 117.09" fill="none" stroke="#2a62be" stroke-width="1.2"/><line x1="591.11" y1="128.2" x2="589.91" y2="133.8" stroke="#3d6cc0" stroke-width="1.8"/><line x1="595.71" y1="128.2" x2="594.51" y2="133.8" stroke="#3d6cc0" stroke-width="1.8"/></g>
<g><circle cx="616.29" cy="117.6" r="5.3" fill="#2a62be" stroke="#2a62be" stroke-width="2.9"/><circle cx="626.29" cy="111.4" r="5.8" fill="#2a62be" stroke="#2a62be" stroke-width="2.9"/><circle cx="637.89" cy="115.6" r="6" fill="#2a62be" stroke="#2a62be" stroke-width="2.9"/><rect x="616.29" y="114" width="21.6" height="9" fill="#2a62be" stroke="#2a62be" stroke-width="2.9"/><circle cx="616.29" cy="117.6" r="5.3" fill="#d2d2d2"/><circle cx="626.29" cy="111.4" r="5.8" fill="#d2d2d2"/><circle cx="637.89" cy="115.6" r="6" fill="#d2d2d2"/><rect x="616.29" y="114" width="21.6" height="9" fill="#d2d2d2"/><circle cx="623.99" cy="120.4" r="4.6" fill="#2a62be" stroke="#2a62be" stroke-width="2.9"/><circle cx="630.59" cy="116.8" r="4.5" fill="#2a62be" stroke="#2a62be" stroke-width="2.9"/><circle cx="637.09" cy="120.9" r="4.4" fill="#2a62be" stroke="#2a62be" stroke-width="2.9"/><rect x="623.99" y="119" width="13.1" height="6.2" fill="#2a62be" stroke="#2a62be" stroke-width="2.9"/><circle cx="623.99" cy="120.4" r="4.6" fill="#fbfbfb"/><circle cx="630.59" cy="116.8" r="4.5" fill="#fbfbfb"/><circle cx="637.09" cy="120.9" r="4.4" fill="#fbfbfb"/><rect x="623.99" y="119" width="13.1" height="6.2" fill="#fbfbfb"/><path d="M632.95 119.4 A4.4 4.4 0 0 1 639.29 117.09" fill="none" stroke="#2a62be" stroke-width="1.2"/></g>
<g><circle cx="650.86" cy="117.6" r="5.3" fill="#2b4f7a" stroke="#2b4f7a" stroke-width="2.9"/><circle cx="660.86" cy="111.4" r="5.8" fill="#2b4f7a" stroke="#2b4f7a" stroke-width="2.9"/><circle cx="672.46" cy="115.6" r="6" fill="#2b4f7a" stroke="#2b4f7a" stroke-width="2.9"/><rect x="650.86" y="114" width="21.6" height="9" fill="#2b4f7a" stroke="#2b4f7a" stroke-width="2.9"/><circle cx="650.86" cy="117.6" r="5.3" fill="#d2d2d2"/><circle cx="660.86" cy="111.4" r="5.8" fill="#d2d2d2"/><circle cx="672.46" cy="115.6" r="6" fill="#d2d2d2"/><rect x="650.86" y="114" width="21.6" height="9" fill="#d2d2d2"/><circle cx="658.56" cy="120.4" r="4.6" fill="#2b4f7a" stroke="#2b4f7a" stroke-width="2.9"/><circle cx="665.16" cy="116.8" r="4.5" fill="#2b4f7a" stroke="#2b4f7a" stroke-width="2.9"/><circle cx="671.66" cy="120.9" r="4.4" fill="#2b4f7a" stroke="#2b4f7a" stroke-width="2.9"/><rect x="658.56" y="119" width="13.1" height="6.2" fill="#2b4f7a" stroke="#2b4f7a" stroke-width="2.9"/><circle cx="658.56" cy="120.4" r="4.6" fill="#fbfbfb"/><circle cx="665.16" cy="116.8" r="4.5" fill="#fbfbfb"/><circle cx="671.66" cy="120.9" r="4.4" fill="#fbfbfb"/><rect x="658.56" y="119" width="13.1" height="6.2" fill="#fbfbfb"/><path d="M667.52 119.4 A4.4 4.4 0 0 1 673.86 117.09" fill="none" stroke="#2b4f7a" stroke-width="1.2"/></g>
<g><circle cx="685.43" cy="117.6" r="5.3" fill="#2b4f7a" stroke="#2b4f7a" stroke-width="2.9"/><circle cx="695.43" cy="111.4" r="5.8" fill="#2b4f7a" stroke="#2b4f7a" stroke-width="2.9"/><circle cx="707.03" cy="115.6" r="6" fill="#2b4f7a" stroke="#2b4f7a" stroke-width="2.9"/><rect x="685.43" y="114" width="21.6" height="9" fill="#2b4f7a" stroke="#2b4f7a" stroke-width="2.9"/><circle cx="685.43" cy="117.6" r="5.3" fill="#d2d2d2"/><circle cx="695.43" cy="111.4" r="5.8" fill="#d2d2d2"/><circle cx="707.03" cy="115.6" r="6" fill="#d2d2d2"/><rect x="685.43" y="114" width="21.6" height="9" fill="#d2d2d2"/><circle cx="693.13" cy="120.4" r="4.6" fill="#2b4f7a" stroke="#2b4f7a" stroke-width="2.9"/><circle cx="699.73" cy="116.8" r="4.5" fill="#2b4f7a" stroke="#2b4f7a" stroke-width="2.9"/><circle cx="706.23" cy="120.9" r="4.4" fill="#2b4f7a" stroke="#2b4f7a" stroke-width="2.9"/><rect x="693.13" y="119" width="13.1" height="6.2" fill="#2b4f7a" stroke="#2b4f7a" stroke-width="2.9"/><circle cx="693.13" cy="120.4" r="4.6" fill="#fbfbfb"/><circle cx="699.73" cy="116.8" r="4.5" fill="#fbfbfb"/><circle cx="706.23" cy="120.9" r="4.4" fill="#fbfbfb"/><rect x="693.13" y="119" width="13.1" height="6.2" fill="#fbfbfb"/><path d="M702.09 119.4 A4.4 4.4 0 0 1 708.43 117.09" fill="none" stroke="#2b4f7a" stroke-width="1.2"/><line x1="694.83" y1="128.2" x2="693.63" y2="133.8" stroke="#2b4f7a" stroke-width="1.8"/><line x1="699.43" y1="128.2" x2="698.23" y2="133.8" stroke="#2b4f7a" stroke-width="1.8"/></g>
<g><line x1="737.36" y1="105.45" x2="739.05" y2="99.17" stroke="#efc040" stroke-width="2.3" stroke-linecap="butt"/><line x1="741.74" y1="108.8" x2="747.36" y2="105.55" stroke="#efc040" stroke-width="2.3" stroke-linecap="butt"/><line x1="742.45" y1="114.26" x2="748.73" y2="115.95" stroke="#efc040" stroke-width="2.3" stroke-linecap="butt"/><line x1="739.1" y1="118.64" x2="742.35" y2="124.26" stroke="#efc040" stroke-width="2.3" stroke-linecap="butt"/><line x1="733.64" y1="119.35" x2="731.95" y2="125.63" stroke="#efc040" stroke-width="2.3" stroke-linecap="butt"/><line x1="729.26" y1="116" x2="723.64" y2="119.25" stroke="#efc040" stroke-width="2.3" stroke-linecap="butt"/><line x1="728.55" y1="110.54" x2="722.27" y2="108.85" stroke="#efc040" stroke-width="2.3" stroke-linecap="butt"/><line x1="731.9" y1="106.16" x2="728.65" y2="100.54" stroke="#efc040" stroke-width="2.3" stroke-linecap="butt"/><line x1="737.44" y1="105.16" x2="738.97" y2="99.46" stroke="#f4e51e" stroke-width="1.5" stroke-linecap="butt"/><line x1="742" y1="108.65" x2="747.1" y2="105.7" stroke="#f4e51e" stroke-width="1.5" stroke-linecap="butt"/><line x1="742.74" y1="114.34" x2="748.44" y2="115.87" stroke="#f4e51e" stroke-width="1.5" stroke-linecap="butt"/><line x1="739.25" y1="118.9" x2="742.2" y2="124" stroke="#f4e51e" stroke-width="1.5" stroke-linecap="butt"/><line x1="733.56" y1="119.64" x2="732.03" y2="125.34" stroke="#f4e51e" stroke-width="1.5" stroke-linecap="butt"/><line x1="729" y1="116.15" x2="723.9" y2="119.1" stroke="#f4e51e" stroke-width="1.5" stroke-linecap="butt"/><line x1="728.26" y1="110.46" x2="722.56" y2="108.93" stroke="#f4e51e" stroke-width="1.5" stroke-linecap="butt"/><line x1="731.75" y1="105.9" x2="728.8" y2="100.8" stroke="#f4e51e" stroke-width="1.5" stroke-linecap="butt"/><circle cx="735.5" cy="112.4" r="6.3" fill="#f3e41c" stroke="#f2a53a" stroke-width="0.9"/><circle cx="722.5" cy="120.8" r="5.1" fill="#2a62be" stroke="#2a62be" stroke-width="2.9"/><circle cx="728" cy="117.6" r="5.2" fill="#2a62be" stroke="#2a62be" stroke-width="2.9"/><circle cx="733.2" cy="121.6" r="4.5" fill="#2a62be" stroke="#2a62be" stroke-width="2.9"/><rect x="722.5" y="119" width="10.7" height="7.3" fill="#2a62be" stroke="#2a62be" stroke-width="2.9"/><circle cx="722.5" cy="120.8" r="5.1" fill="#d2d2d2"/><circle cx="728" cy="117.6" r="5.2" fill="#d2d2d2"/><circle cx="733.2" cy="121.6" r="4.5" fill="#d2d2d2"/><rect x="722.5" y="119" width="10.7" height="7.3" fill="#d2d2d2"/><path d="M728.88 120.03 A4.6 4.6 0 0 1 735.5 117.62" fill="none" stroke="#2a62be" stroke-width="1.2"/><line x1="719.9" y1="128.2" x2="718.7" y2="133.8" stroke="#3d6cc0" stroke-width="1.8"/><line x1="724.4" y1="128.2" x2="723.2" y2="133.8" stroke="#3d6cc0" stroke-width="1.8"/><line x1="728.3" y1="128.2" x2="727.1" y2="133.8" stroke="#3d6cc0" stroke-width="1.8"/><line x1="732.5" y1="128.2" x2="731.3" y2="133.8" stroke="#3d6cc0" stroke-width="1.8"/></g>
<g><line x1="771.93" y1="105.45" x2="773.62" y2="99.17" stroke="#efc040" stroke-width="2.3" stroke-linecap="butt"/><line x1="776.31" y1="108.8" x2="781.94" y2="105.55" stroke="#efc040" stroke-width="2.3" stroke-linecap="butt"/><line x1="777.03" y1="114.26" x2="783.3" y2="115.95" stroke="#efc040" stroke-width="2.3" stroke-linecap="butt"/><line x1="773.67" y1="118.64" x2="776.92" y2="124.26" stroke="#efc040" stroke-width="2.3" stroke-linecap="butt"/><line x1="768.21" y1="119.35" x2="766.53" y2="125.63" stroke="#efc040" stroke-width="2.3" stroke-linecap="butt"/><line x1="763.84" y1="116" x2="758.21" y2="119.25" stroke="#efc040" stroke-width="2.3" stroke-linecap="butt"/><line x1="763.12" y1="110.54" x2="756.84" y2="108.85" stroke="#efc040" stroke-width="2.3" stroke-linecap="butt"/><line x1="766.47" y1="106.16" x2="763.22" y2="100.54" stroke="#efc040" stroke-width="2.3" stroke-linecap="butt"/><line x1="772.01" y1="105.16" x2="773.54" y2="99.46" stroke="#f4e51e" stroke-width="1.5" stroke-linecap="butt"/><line x1="776.57" y1="108.65" x2="781.68" y2="105.7" stroke="#f4e51e" stroke-width="1.5" stroke-linecap="butt"/><line x1="777.32" y1="114.34" x2="783.01" y2="115.87" stroke="#f4e51e" stroke-width="1.5" stroke-linecap="butt"/><line x1="773.82" y1="118.9" x2="776.77" y2="124" stroke="#f4e51e" stroke-width="1.5" stroke-linecap="butt"/><line x1="768.13" y1="119.64" x2="766.6" y2="125.34" stroke="#f4e51e" stroke-width="1.5" stroke-linecap="butt"/><line x1="763.58" y1="116.15" x2="758.47" y2="119.1" stroke="#f4e51e" stroke-width="1.5" stroke-linecap="butt"/><line x1="762.83" y1="110.46" x2="757.13" y2="108.93" stroke="#f4e51e" stroke-width="1.5" stroke-linecap="butt"/><line x1="766.32" y1="105.9" x2="763.37" y2="100.8" stroke="#f4e51e" stroke-width="1.5" stroke-linecap="butt"/><circle cx="770.07" cy="112.4" r="6.3" fill="#f3e41c" stroke="#f2a53a" stroke-width="0.9"/><circle cx="757.07" cy="120.8" r="5.1" fill="#2a62be" stroke="#2a62be" stroke-width="2.9"/><circle cx="762.57" cy="117.6" r="5.2" fill="#2a62be" stroke="#2a62be" stroke-width="2.9"/><circle cx="767.77" cy="121.6" r="4.5" fill="#2a62be" stroke="#2a62be" stroke-width="2.9"/><rect x="757.07" y="119" width="10.7" height="7.3" fill="#2a62be" stroke="#2a62be" stroke-width="2.9"/><circle cx="757.07" cy="120.8" r="5.1" fill="#d2d2d2"/><circle cx="762.57" cy="117.6" r="5.2" fill="#d2d2d2"/><circle cx="767.77" cy="121.6" r="4.5" fill="#d2d2d2"/><rect x="757.07" y="119" width="10.7" height="7.3" fill="#d2d2d2"/><path d="M763.45 120.03 A4.6 4.6 0 0 1 770.07 117.62" fill="none" stroke="#2a62be" stroke-width="1.2"/><line x1="759.77" y1="128.2" x2="758.57" y2="133.8" stroke="#3d6cc0" stroke-width="1.8"/><line x1="763.97" y1="128.2" x2="762.77" y2="133.8" stroke="#3d6cc0" stroke-width="1.8"/></g>
<g><path d="M805.54 101 A12.57 12.57 0 1 0 805.54 126 A16.56 16.56 0 0 1 805.54 101 Z" fill="#ffffff" stroke="#000" stroke-width="1.5" stroke-linejoin="round"/><rect x="782.94" y="115.4" width="35" height="3.4" fill="#ffffff" stroke="#2b4f7a" stroke-width="1.6"/><rect x="785.74" y="122.2" width="31.7" height="2.4" fill="#2b4f7a"/></g>
<g><path d="M840.11 101 A12.57 12.57 0 1 0 840.11 126 A16.56 16.56 0 0 1 840.11 101 Z" fill="#ffffff" stroke="#000" stroke-width="1.5" stroke-linejoin="round"/><rect x="817.51" y="115.4" width="35" height="3.4" fill="#ffffff" stroke="#2b4f7a" stroke-width="1.6"/><rect x="820.31" y="122.2" width="31.7" height="2.4" fill="#2b4f7a"/></g>
<g><line x1="872.5" y1="104.85" x2="874.18" y2="98.57" stroke="#efc040" stroke-width="2.3" stroke-linecap="butt"/><line x1="876.99" y1="108.3" x2="882.62" y2="105.05" stroke="#efc040" stroke-width="2.3" stroke-linecap="butt"/><line x1="877.73" y1="113.92" x2="884.01" y2="115.6" stroke="#efc040" stroke-width="2.3" stroke-linecap="butt"/><line x1="874.29" y1="118.41" x2="877.54" y2="124.04" stroke="#efc040" stroke-width="2.3" stroke-linecap="butt"/><line x1="868.67" y1="119.15" x2="866.99" y2="125.43" stroke="#efc040" stroke-width="2.3" stroke-linecap="butt"/><line x1="864.18" y1="115.7" x2="858.55" y2="118.95" stroke="#efc040" stroke-width="2.3" stroke-linecap="butt"/><line x1="863.44" y1="110.08" x2="857.16" y2="108.4" stroke="#efc040" stroke-width="2.3" stroke-linecap="butt"/><line x1="866.89" y1="105.59" x2="863.64" y2="99.96" stroke="#efc040" stroke-width="2.3" stroke-linecap="butt"/><line x1="872.58" y1="104.56" x2="874.11" y2="98.86" stroke="#f4e51e" stroke-width="1.5" stroke-linecap="butt"/><line x1="877.25" y1="108.15" x2="882.36" y2="105.2" stroke="#f4e51e" stroke-width="1.5" stroke-linecap="butt"/><line x1="878.02" y1="113.99" x2="883.72" y2="115.52" stroke="#f4e51e" stroke-width="1.5" stroke-linecap="butt"/><line x1="874.44" y1="118.67" x2="877.39" y2="123.78" stroke="#f4e51e" stroke-width="1.5" stroke-linecap="butt"/><line x1="868.59" y1="119.44" x2="867.07" y2="125.14" stroke="#f4e51e" stroke-width="1.5" stroke-linecap="butt"/><line x1="863.92" y1="115.85" x2="858.81" y2="118.8" stroke="#f4e51e" stroke-width="1.5" stroke-linecap="butt"/><line x1="863.15" y1="110.01" x2="857.45" y2="108.48" stroke="#f4e51e" stroke-width="1.5" stroke-linecap="butt"/><line x1="866.74" y1="105.33" x2="863.79" y2="100.22" stroke="#f4e51e" stroke-width="1.5" stroke-linecap="butt"/><circle cx="870.59" cy="112" r="6.5" fill="#f3e41c" stroke="#f2a53a" stroke-width="0.9"/><rect x="852.99" y="116.8" width="35.3" height="3.4" fill="#ffffff" stroke="#4a78c0" stroke-width="1.6"/><rect x="855.19" y="123.6" width="31.6" height="2.4" fill="#4a78c0"/></g>
<g><line x1="910.22" y1="105.45" x2="911.9" y2="99.17" stroke="#efc040" stroke-width="2.3" stroke-linecap="butt"/><line x1="914.59" y1="108.8" x2="920.22" y2="105.55" stroke="#efc040" stroke-width="2.3" stroke-linecap="butt"/><line x1="915.31" y1="114.26" x2="921.59" y2="115.95" stroke="#efc040" stroke-width="2.3" stroke-linecap="butt"/><line x1="911.96" y1="118.64" x2="915.21" y2="124.26" stroke="#efc040" stroke-width="2.3" stroke-linecap="butt"/><line x1="906.49" y1="119.35" x2="904.81" y2="125.63" stroke="#efc040" stroke-width="2.3" stroke-linecap="butt"/><line x1="902.12" y1="116" x2="896.49" y2="119.25" stroke="#efc040" stroke-width="2.3" stroke-linecap="butt"/><line x1="901.4" y1="110.54" x2="895.12" y2="108.85" stroke="#efc040" stroke-width="2.3" stroke-linecap="butt"/><line x1="904.76" y1="106.16" x2="901.51" y2="100.54" stroke="#efc040" stroke-width="2.3" stroke-linecap="butt"/><line x1="910.3" y1="105.16" x2="911.83" y2="99.46" stroke="#f4e51e" stroke-width="1.5" stroke-linecap="butt"/><line x1="914.85" y1="108.65" x2="919.96" y2="105.7" stroke="#f4e51e" stroke-width="1.5" stroke-linecap="butt"/><line x1="915.6" y1="114.34" x2="921.3" y2="115.87" stroke="#f4e51e" stroke-width="1.5" stroke-linecap="butt"/><line x1="912.11" y1="118.9" x2="915.06" y2="124" stroke="#f4e51e" stroke-width="1.5" stroke-linecap="butt"/><line x1="906.42" y1="119.64" x2="904.89" y2="125.34" stroke="#f4e51e" stroke-width="1.5" stroke-linecap="butt"/><line x1="901.86" y1="116.15" x2="896.75" y2="119.1" stroke="#f4e51e" stroke-width="1.5" stroke-linecap="butt"/><line x1="901.11" y1="110.46" x2="895.41" y2="108.93" stroke="#f4e51e" stroke-width="1.5" stroke-linecap="butt"/><line x1="904.61" y1="105.9" x2="901.66" y2="100.8" stroke="#f4e51e" stroke-width="1.5" stroke-linecap="butt"/><circle cx="908.36" cy="112.4" r="6.3" fill="#f3e41c" stroke="#f2a53a" stroke-width="0.9"/><circle cx="895.36" cy="120.8" r="5.1" fill="#2a62be" stroke="#2a62be" stroke-width="2.9"/><circle cx="900.86" cy="117.6" r="5.2" fill="#2a62be" stroke="#2a62be" stroke-width="2.9"/><circle cx="906.06" cy="121.6" r="4.5" fill="#2a62be" stroke="#2a62be" stroke-width="2.9"/><rect x="895.36" y="119" width="10.7" height="7.3" fill="#2a62be" stroke="#2a62be" stroke-width="2.9"/><circle cx="895.36" cy="120.8" r="5.1" fill="#d2d2d2"/><circle cx="900.86" cy="117.6" r="5.2" fill="#d2d2d2"/><circle cx="906.06" cy="121.6" r="4.5" fill="#d2d2d2"/><rect x="895.36" y="119" width="10.7" height="7.3" fill="#d2d2d2"/><path d="M901.73 120.03 A4.6 4.6 0 0 1 908.36 117.62" fill="none" stroke="#2a62be" stroke-width="1.2"/></g>
<g><path d="M939.63 101 A12.58 12.58 0 1 0 939.63 126 A17.39 17.39 0 0 1 939.63 101 Z" fill="#ffffff" stroke="#000" stroke-width="1.5" stroke-linejoin="round"/><circle cx="934.93" cy="120.5" r="4.8" fill="#2b4f7a" stroke="#2b4f7a" stroke-width="2.9"/><circle cx="943.13" cy="116.5" r="5.5" fill="#2b4f7a" stroke="#2b4f7a" stroke-width="2.9"/><circle cx="949.43" cy="121" r="5" fill="#2b4f7a" stroke="#2b4f7a" stroke-width="2.9"/><rect x="934.93" y="118" width="14.5" height="8" fill="#2b4f7a" stroke="#2b4f7a" stroke-width="2.9"/><circle cx="934.93" cy="120.5" r="4.8" fill="#d2d2d2"/><circle cx="943.13" cy="116.5" r="5.5" fill="#d2d2d2"/><circle cx="949.43" cy="121" r="5" fill="#d2d2d2"/><rect x="934.93" y="118" width="14.5" height="8" fill="#d2d2d2"/><path d="M944.73 119.29 A5 5 0 0 1 951.93 116.67" fill="none" stroke="#2b4f7a" stroke-width="1.2"/></g>
<g><path d="M976.7 101 A12.61 12.61 0 1 0 976.7 126 A16.02 16.02 0 0 1 976.7 101 Z" fill="#ffffff" stroke="#000" stroke-width="1.5" stroke-linejoin="round"/><circle cx="971.6" cy="120.6" r="3.5" fill="#2b4f7a" stroke="#2b4f7a" stroke-width="2.4"/><circle cx="976.7" cy="117.8" r="3.7" fill="#2b4f7a" stroke="#2b4f7a" stroke-width="2.4"/><circle cx="982.2" cy="120.6" r="3.5" fill="#2b4f7a" stroke="#2b4f7a" stroke-width="2.4"/><rect x="971.6" y="119" width="10.6" height="5.1" fill="#2b4f7a" stroke="#2b4f7a" stroke-width="2.4"/><circle cx="971.6" cy="120.6" r="3.5" fill="#d2d2d2"/><circle cx="976.7" cy="117.8" r="3.7" fill="#d2d2d2"/><circle cx="982.2" cy="120.6" r="3.5" fill="#d2d2d2"/><rect x="971.6" y="119" width="10.6" height="5.1" fill="#d2d2d2"/></g>
<g><line x1="1007.59" y1="106.05" x2="1009.27" y2="99.77" stroke="#efc040" stroke-width="2.3" stroke-linecap="butt"/><line x1="1012.08" y1="109.5" x2="1017.71" y2="106.25" stroke="#efc040" stroke-width="2.3" stroke-linecap="butt"/><line x1="1012.82" y1="115.12" x2="1019.1" y2="116.8" stroke="#efc040" stroke-width="2.3" stroke-linecap="butt"/><line x1="1009.37" y1="119.61" x2="1012.62" y2="125.24" stroke="#efc040" stroke-width="2.3" stroke-linecap="butt"/><line x1="1003.76" y1="120.35" x2="1002.07" y2="126.63" stroke="#efc040" stroke-width="2.3" stroke-linecap="butt"/><line x1="999.26" y1="116.9" x2="993.63" y2="120.15" stroke="#efc040" stroke-width="2.3" stroke-linecap="butt"/><line x1="998.52" y1="111.28" x2="992.25" y2="109.6" stroke="#efc040" stroke-width="2.3" stroke-linecap="butt"/><line x1="1001.97" y1="106.79" x2="998.72" y2="101.16" stroke="#efc040" stroke-width="2.3" stroke-linecap="butt"/><line x1="1007.66" y1="105.76" x2="1009.19" y2="100.06" stroke="#f4e51e" stroke-width="1.5" stroke-linecap="butt"/><line x1="1012.34" y1="109.35" x2="1017.45" y2="106.4" stroke="#f4e51e" stroke-width="1.5" stroke-linecap="butt"/><line x1="1013.11" y1="115.19" x2="1018.81" y2="116.72" stroke="#f4e51e" stroke-width="1.5" stroke-linecap="butt"/><line x1="1009.52" y1="119.87" x2="1012.47" y2="124.98" stroke="#f4e51e" stroke-width="1.5" stroke-linecap="butt"/><line x1="1003.68" y1="120.64" x2="1002.15" y2="126.34" stroke="#f4e51e" stroke-width="1.5" stroke-linecap="butt"/><line x1="999" y1="117.05" x2="993.89" y2="120" stroke="#f4e51e" stroke-width="1.5" stroke-linecap="butt"/><line x1="998.23" y1="111.21" x2="992.53" y2="109.68" stroke="#f4e51e" stroke-width="1.5" stroke-linecap="butt"/><line x1="1001.82" y1="106.53" x2="998.87" y2="101.42" stroke="#f4e51e" stroke-width="1.5" stroke-linecap="butt"/><circle cx="1005.67" cy="113.2" r="6.5" fill="#f3e41c" stroke="#f2a53a" stroke-width="0.9"/><circle cx="1009.57" cy="121" r="3.5" fill="#2a62be" stroke="#2a62be" stroke-width="2.8"/><circle cx="1014.87" cy="117.6" r="3.7" fill="#2a62be" stroke="#2a62be" stroke-width="2.8"/><circle cx="1019.27" cy="121" r="3.4" fill="#2a62be" stroke="#2a62be" stroke-width="2.8"/><rect x="1009.57" y="119" width="9.7" height="5.4" fill="#2a62be" stroke="#2a62be" stroke-width="2.8"/><circle cx="1009.57" cy="121" r="3.5" fill="#fbfbfb"/><circle cx="1014.87" cy="117.6" r="3.7" fill="#fbfbfb"/><circle cx="1019.27" cy="121" r="3.4" fill="#fbfbfb"/><rect x="1009.57" y="119" width="9.7" height="5.4" fill="#fbfbfb"/></g>
<g><line x1="1043.48" y1="105.96" x2="1045.17" y2="99.68" stroke="#efc040" stroke-width="2.3" stroke-linecap="butt"/><line x1="1048.04" y1="109.45" x2="1053.67" y2="106.2" stroke="#efc040" stroke-width="2.3" stroke-linecap="butt"/><line x1="1048.79" y1="115.14" x2="1055.07" y2="116.82" stroke="#efc040" stroke-width="2.3" stroke-linecap="butt"/><line x1="1045.29" y1="119.7" x2="1048.54" y2="125.32" stroke="#efc040" stroke-width="2.3" stroke-linecap="butt"/><line x1="1039.6" y1="120.44" x2="1037.92" y2="126.72" stroke="#efc040" stroke-width="2.3" stroke-linecap="butt"/><line x1="1035.05" y1="116.95" x2="1029.42" y2="120.2" stroke="#efc040" stroke-width="2.3" stroke-linecap="butt"/><line x1="1034.3" y1="111.26" x2="1028.02" y2="109.58" stroke="#efc040" stroke-width="2.3" stroke-linecap="butt"/><line x1="1037.79" y1="106.7" x2="1034.54" y2="101.08" stroke="#efc040" stroke-width="2.3" stroke-linecap="butt"/><line x1="1043.56" y1="105.67" x2="1045.09" y2="99.97" stroke="#f4e51e" stroke-width="1.5" stroke-linecap="butt"/><line x1="1048.3" y1="109.3" x2="1053.41" y2="106.35" stroke="#f4e51e" stroke-width="1.5" stroke-linecap="butt"/><line x1="1049.08" y1="115.22" x2="1054.78" y2="116.75" stroke="#f4e51e" stroke-width="1.5" stroke-linecap="butt"/><line x1="1045.44" y1="119.95" x2="1048.39" y2="125.06" stroke="#f4e51e" stroke-width="1.5" stroke-linecap="butt"/><line x1="1039.52" y1="120.73" x2="1038" y2="126.43" stroke="#f4e51e" stroke-width="1.5" stroke-linecap="butt"/><line x1="1034.79" y1="117.1" x2="1029.68" y2="120.05" stroke="#f4e51e" stroke-width="1.5" stroke-linecap="butt"/><line x1="1034.01" y1="111.18" x2="1028.31" y2="109.65" stroke="#f4e51e" stroke-width="1.5" stroke-linecap="butt"/><line x1="1037.64" y1="106.45" x2="1034.69" y2="101.34" stroke="#f4e51e" stroke-width="1.5" stroke-linecap="butt"/><circle cx="1041.54" cy="113.2" r="6.6" fill="#f3e41c" stroke="#f2a53a" stroke-width="0.9"/></g>
<g><path d="M1083.91 101 A12.57 12.57 0 1 0 1083.91 126 A17.17 17.17 0 0 1 1083.91 101 Z" fill="#ffffff" stroke="#000" stroke-width="1.5" stroke-linejoin="round"/></g>
<circle cx="127" cy="152.8" r="3.95" fill="none" stroke="#000" stroke-width="1.9"/>
<circle cx="144.29" cy="152.8" r="3.95" fill="none" stroke="#000" stroke-width="1.9"/>
<circle cx="161.57" cy="152.8" r="3.95" fill="none" stroke="#000" stroke-width="1.9"/>
<circle cx="178.86" cy="152.8" r="3.95" fill="none" stroke="#000" stroke-width="1.9"/>
<circle cx="196.14" cy="152.8" r="3.95" fill="none" stroke="#000" stroke-width="1.9"/>
<circle cx="213.43" cy="152.8" r="3.95" fill="none" stroke="#000" stroke-width="1.9"/>
<circle cx="230.71" cy="152.8" r="3.95" fill="none" stroke="#000" stroke-width="1.9"/>
<circle cx="248" cy="152.8" r="3.95" fill="none" stroke="#000" stroke-width="1.9"/>
<circle cx="265.29" cy="152.8" r="3.95" fill="none" stroke="#000" stroke-width="1.9"/>
<circle cx="282.57" cy="152.8" r="3.95" fill="none" stroke="#000" stroke-width="1.9"/>
<circle cx="299.86" cy="152.8" r="3.95" fill="none" stroke="#000" stroke-width="1.9"/>
<circle cx="317.14" cy="152.8" r="3.95" fill="none" stroke="#000" stroke-width="1.9"/>
<circle cx="420.86" cy="152.8" r="3.95" fill="none" stroke="#000" stroke-width="1.9"/>
<circle cx="438.14" cy="152.8" r="3.95" fill="none" stroke="#000" stroke-width="1.9"/>
<circle cx="455.43" cy="152.8" r="3.95" fill="none" stroke="#000" stroke-width="1.9"/>
<circle cx="472.71" cy="152.8" r="3.95" fill="none" stroke="#000" stroke-width="1.9"/>
<circle cx="490" cy="152.8" r="3.95" fill="none" stroke="#000" stroke-width="1.9"/>
<circle cx="507.29" cy="152.8" r="3.95" fill="none" stroke="#000" stroke-width="1.9"/>
<circle cx="611" cy="152.8" r="3.95" fill="none" stroke="#000" stroke-width="1.9"/>
<circle cx="628.29" cy="152.8" r="3.95" fill="none" stroke="#000" stroke-width="1.9"/>
<circle cx="645.57" cy="152.8" r="3.95" fill="none" stroke="#000" stroke-width="1.9"/>
<circle cx="662.86" cy="152.8" r="3.95" fill="none" stroke="#000" stroke-width="1.9"/>
<circle cx="680.14" cy="152.8" r="3.95" fill="none" stroke="#000" stroke-width="1.9"/>
<circle cx="697.43" cy="152.8" r="3.95" fill="none" stroke="#000" stroke-width="1.9"/>
<circle cx="714.71" cy="152.8" r="3.95" fill="none" stroke="#000" stroke-width="1.9"/>
<circle cx="732" cy="152.8" r="3.95" fill="none" stroke="#000" stroke-width="1.9"/>
<circle cx="749.29" cy="152.8" r="3.95" fill="none" stroke="#000" stroke-width="1.9"/>
<circle cx="766.57" cy="152.8" r="3.95" fill="none" stroke="#000" stroke-width="1.9"/>
<circle cx="783.86" cy="152.8" r="3.95" fill="none" stroke="#000" stroke-width="1.9"/>
<circle cx="801.14" cy="152.8" r="3.95" fill="none" stroke="#000" stroke-width="1.9"/>
<circle cx="818.43" cy="152.8" r="3.95" fill="none" stroke="#000" stroke-width="1.9"/>
<circle cx="835.71" cy="152.8" r="3.95" fill="none" stroke="#000" stroke-width="1.9"/>
<circle cx="853" cy="152.8" r="3.95" fill="none" stroke="#000" stroke-width="1.9"/>
<circle cx="870.29" cy="152.8" r="3.95" fill="none" stroke="#000" stroke-width="1.9"/>
<circle cx="887.57" cy="152.8" r="3.95" fill="none" stroke="#000" stroke-width="1.9"/>
<circle cx="904.86" cy="152.8" r="3.95" fill="none" stroke="#000" stroke-width="1.9"/>
<circle cx="922.14" cy="152.8" r="3.95" fill="none" stroke="#000" stroke-width="1.9"/>
<circle cx="939.43" cy="152.8" r="3.95" fill="none" stroke="#000" stroke-width="1.9"/>
<circle cx="956.71" cy="152.8" r="3.95" fill="none" stroke="#000" stroke-width="1.9"/>
<circle cx="974" cy="152.8" r="3.95" fill="none" stroke="#000" stroke-width="1.9"/>
<circle cx="991.29" cy="152.8" r="3.95" fill="none" stroke="#000" stroke-width="1.9"/>
<circle cx="1008.57" cy="152.8" r="3.95" fill="none" stroke="#000" stroke-width="1.9"/>
<circle cx="1025.86" cy="152.8" r="3.95" fill="none" stroke="#000" stroke-width="1.9"/>
<circle cx="1043.14" cy="152.8" r="3.95" fill="none" stroke="#000" stroke-width="1.9"/>
<circle cx="1060.43" cy="152.8" r="3.95" fill="none" stroke="#000" stroke-width="1.9"/>
<circle cx="1077.71" cy="152.8" r="3.95" fill="none" stroke="#000" stroke-width="1.9"/>
<circle cx="1095" cy="152.8" r="3.95" fill="none" stroke="#000" stroke-width="1.9"/>
<line x1="323" y1="158.2" x2="345" y2="147.8" stroke="#000" stroke-width="1.8" stroke-linecap="butt"/>
<line x1="342.3" y1="149" x2="344.4" y2="153.8" stroke="#000" stroke-width="1.8" stroke-linecap="butt"/>
<line x1="341.3" y1="160" x2="361.6" y2="146.1" stroke="#000" stroke-width="1.8" stroke-linecap="butt"/>
<line x1="359" y1="147.4" x2="361.7" y2="152.2" stroke="#000" stroke-width="1.8" stroke-linecap="butt"/>
<line x1="362.2" y1="163.5" x2="375.2" y2="142.5" stroke="#000" stroke-width="1.8" stroke-linecap="butt"/>
<line x1="372.9" y1="146.6" x2="377.8" y2="147.6" stroke="#000" stroke-width="1.8" stroke-linecap="butt"/>
<line x1="374.5" y1="155.8" x2="398" y2="150.5" stroke="#000" stroke-width="1.8" stroke-linecap="butt"/>
<line x1="375.8" y1="150.6" x2="376.6" y2="155.6" stroke="#000" stroke-width="1.8" stroke-linecap="butt"/>
<line x1="391.6" y1="153" x2="415.8" y2="152.6" stroke="#000" stroke-width="1.8" stroke-linecap="butt"/>
<line x1="396" y1="149.6" x2="397" y2="153.4" stroke="#000" stroke-width="1.8" stroke-linecap="butt"/>
<line x1="523.2" y1="165.2" x2="525.2" y2="141" stroke="#000" stroke-width="1.8" stroke-linecap="butt"/>
<line x1="525" y1="145.2" x2="530.5" y2="144.6" stroke="#000" stroke-width="1.8" stroke-linecap="butt"/>
<line x1="538.8" y1="165.2" x2="544.2" y2="141" stroke="#000" stroke-width="1.8" stroke-linecap="butt"/>
<line x1="543.5" y1="145.2" x2="548.6" y2="144.6" stroke="#000" stroke-width="1.8" stroke-linecap="butt"/>
<line x1="557.9" y1="165.2" x2="559.7" y2="141" stroke="#000" stroke-width="1.8" stroke-linecap="butt"/>
<line x1="559.6" y1="145.2" x2="565" y2="144.6" stroke="#000" stroke-width="1.8" stroke-linecap="butt"/>
<line x1="577" y1="165.2" x2="574.7" y2="141" stroke="#000" stroke-width="1.8" stroke-linecap="butt"/>
<line x1="575.2" y1="146" x2="580.2" y2="144.6" stroke="#000" stroke-width="1.8" stroke-linecap="butt"/>
<line x1="593.9" y1="165.2" x2="592.5" y2="141" stroke="#000" stroke-width="1.8" stroke-linecap="butt"/>
<line x1="592.9" y1="145.2" x2="598" y2="144.6" stroke="#000" stroke-width="1.8" stroke-linecap="butt"/>
<rect x="127.5" y="97.5" width="967" height="261" fill="none" stroke="#000" stroke-width="1"/>
<line x1="144.5" y1="354" x2="144.5" y2="359" stroke="#000" stroke-width="1"/>
<line x1="161.5" y1="349" x2="161.5" y2="359" stroke="#000" stroke-width="1"/>
<line x1="178.5" y1="354" x2="178.5" y2="359" stroke="#000" stroke-width="1"/>
<line x1="196.5" y1="349" x2="196.5" y2="359" stroke="#000" stroke-width="1"/>
<line x1="213.5" y1="354" x2="213.5" y2="359" stroke="#000" stroke-width="1"/>
<line x1="230.5" y1="349" x2="230.5" y2="359" stroke="#000" stroke-width="1"/>
<line x1="248.5" y1="354" x2="248.5" y2="359" stroke="#000" stroke-width="1"/>
<line x1="265.5" y1="349" x2="265.5" y2="359" stroke="#000" stroke-width="1"/>
<line x1="282.5" y1="354" x2="282.5" y2="359" stroke="#000" stroke-width="1"/>
<line x1="299.5" y1="349" x2="299.5" y2="359" stroke="#000" stroke-width="1"/>
<line x1="317.5" y1="354" x2="317.5" y2="359" stroke="#000" stroke-width="1"/>
<line x1="334.5" y1="349" x2="334.5" y2="359" stroke="#000" stroke-width="1"/>
<line x1="351.5" y1="354" x2="351.5" y2="359" stroke="#000" stroke-width="1"/>
<line x1="369.5" y1="349" x2="369.5" y2="359" stroke="#000" stroke-width="1"/>
<line x1="386.5" y1="354" x2="386.5" y2="359" stroke="#000" stroke-width="1"/>
<line x1="403.5" y1="349" x2="403.5" y2="359" stroke="#000" stroke-width="1"/>
<line x1="420.5" y1="354" x2="420.5" y2="359" stroke="#000" stroke-width="1"/>
<line x1="438.5" y1="349" x2="438.5" y2="359" stroke="#000" stroke-width="1"/>
<line x1="455.5" y1="354" x2="455.5" y2="359" stroke="#000" stroke-width="1"/>
<line x1="472.5" y1="349" x2="472.5" y2="359" stroke="#000" stroke-width="1"/>
<line x1="490.5" y1="354" x2="490.5" y2="359" stroke="#000" stroke-width="1"/>
<line x1="507.5" y1="349" x2="507.5" y2="359" stroke="#000" stroke-width="1"/>
<line x1="524.5" y1="354" x2="524.5" y2="359" stroke="#000" stroke-width="1"/>
<line x1="541.5" y1="349" x2="541.5" y2="359" stroke="#000" stroke-width="1"/>
<line x1="559.5" y1="354" x2="559.5" y2="359" stroke="#000" stroke-width="1"/>
<line x1="576.5" y1="349" x2="576.5" y2="359" stroke="#000" stroke-width="1"/>
<line x1="593.5" y1="354" x2="593.5" y2="359" stroke="#000" stroke-width="1"/>
<line x1="611.5" y1="349" x2="611.5" y2="359" stroke="#000" stroke-width="1"/>
<line x1="628.5" y1="354" x2="628.5" y2="359" stroke="#000" stroke-width="1"/>
<line x1="645.5" y1="349" x2="645.5" y2="359" stroke="#000" stroke-width="1"/>
<line x1="662.5" y1="354" x2="662.5" y2="359" stroke="#000" stroke-width="1"/>
<line x1="680.5" y1="349" x2="680.5" y2="359" stroke="#000" stroke-width="1"/>
<line x1="697.5" y1="354" x2="697.5" y2="359" stroke="#000" stroke-width="1"/>
<line x1="714.5" y1="349" x2="714.5" y2="359" stroke="#000" stroke-width="1"/>
<line x1="732.5" y1="354" x2="732.5" y2="359" stroke="#000" stroke-width="1"/>
<line x1="749.5" y1="349" x2="749.5" y2="359" stroke="#000" stroke-width="1"/>
<line x1="766.5" y1="354" x2="766.5" y2="359" stroke="#000" stroke-width="1"/>
<line x1="783.5" y1="349" x2="783.5" y2="359" stroke="#000" stroke-width="1"/>
<line x1="801.5" y1="354" x2="801.5" y2="359" stroke="#000" stroke-width="1"/>
<line x1="818.5" y1="349" x2="818.5" y2="359" stroke="#000" stroke-width="1"/>
<line x1="835.5" y1="354" x2="835.5" y2="359" stroke="#000" stroke-width="1"/>
<line x1="853.5" y1="349" x2="853.5" y2="359" stroke="#000" stroke-width="1"/>
<line x1="870.5" y1="354" x2="870.5" y2="359" stroke="#000" stroke-width="1"/>
<line x1="887.5" y1="349" x2="887.5" y2="359" stroke="#000" stroke-width="1"/>
<line x1="904.5" y1="354" x2="904.5" y2="359" stroke="#000" stroke-width="1"/>
<line x1="922.5" y1="349" x2="922.5" y2="359" stroke="#000" stroke-width="1"/>
<line x1="939.5" y1="354" x2="939.5" y2="359" stroke="#000" stroke-width="1"/>
<line x1="956.5" y1="349" x2="956.5" y2="359" stroke="#000" stroke-width="1"/>
<line x1="974.5" y1="354" x2="974.5" y2="359" stroke="#000" stroke-width="1"/>
<line x1="991.5" y1="349" x2="991.5" y2="359" stroke="#000" stroke-width="1"/>
<line x1="1008.5" y1="354" x2="1008.5" y2="359" stroke="#000" stroke-width="1"/>
<line x1="1025.5" y1="349" x2="1025.5" y2="359" stroke="#000" stroke-width="1"/>
<line x1="1043.5" y1="354" x2="1043.5" y2="359" stroke="#000" stroke-width="1"/>
<line x1="1060.5" y1="349" x2="1060.5" y2="359" stroke="#000" stroke-width="1"/>
<line x1="1077.5" y1="354" x2="1077.5" y2="359" stroke="#000" stroke-width="1"/>
<text x="10" y="22" class="ls" font-size="16" fill="#0000ff">(kraj lahko izberete v meniju)</text>
<text x="399.5" y="36.7" class="ls" font-size="23.5" fill="#0000ff" textLength="135" lengthAdjust="spacingAndGlyphs">Zagreb 7 dni</text>
<text x="1143.3" y="21.5" class="ls" font-size="16" fill="#0000ff" text-anchor="end">Zadnja posodobitev: 03.12.2025 - 16:09</text>
<text x="196.14" y="68.5" class="dv" font-size="17.5" text-anchor="middle" fill="#000">sreda</text>
<text x="196.14" y="89.5" class="dv" font-size="17.5" text-anchor="middle" fill="#000">03.12</text>
<text x="334.43" y="68.5" class="dv" font-size="17.5" text-anchor="middle" fill="#000">četrtek</text>
<text x="334.43" y="89.5" class="dv" font-size="17.5" text-anchor="middle" fill="#000">04.12</text>
<text x="472.71" y="68.5" class="dv" font-size="17.5" text-anchor="middle" fill="#000">petek</text>
<text x="472.71" y="89.5" class="dv" font-size="17.5" text-anchor="middle" fill="#000">05.12</text>
<text x="611" y="68.5" class="dv" font-size="17.5" text-anchor="middle" fill="#cc0000">sobota</text>
<text x="611" y="89.5" class="dv" font-size="17.5" text-anchor="middle" fill="#cc0000">06.12</text>
<text x="749.29" y="68.5" class="dv" font-size="17.5" text-anchor="middle" fill="#cc0000">nedelja</text>
<text x="749.29" y="89.5" class="dv" font-size="17.5" text-anchor="middle" fill="#cc0000">07.12</text>
<text x="887.57" y="68.5" class="dv" font-size="17.5" text-anchor="middle" fill="#000">ponedeljek</text>
<text x="887.57" y="89.5" class="dv" font-size="17.5" text-anchor="middle" fill="#000">08.12</text>
<text x="1025.86" y="68.5" class="dv" font-size="17.5" text-anchor="middle" fill="#000">torek</text>
<text x="1025.86" y="89.5" class="dv" font-size="17.5" text-anchor="middle" fill="#000">09.12</text>
<text x="161.57" y="377.2" class="dv" font-size="17" text-anchor="middle">06</text>
<text x="196.14" y="377.2" class="dv" font-size="17" text-anchor="middle">12</text>
<text x="230.71" y="377.2" class="dv" font-size="17" text-anchor="middle">18</text>
<text x="265.29" y="377.2" class="dv" font-size="17" text-anchor="middle">čet</text>
<text x="299.86" y="377.2" class="dv" font-size="17" text-anchor="middle">06</text>
<text x="334.43" y="377.2" class="dv" font-size="17" text-anchor="middle">12</text>
<text x="369" y="377.2" class="dv" font-size="17" text-anchor="middle">18</text>
<text x="403.57" y="377.2" class="dv" font-size="17" text-anchor="middle">pet</text>
<text x="438.14" y="377.2" class="dv" font-size="17" text-anchor="middle">06</text>
<text x="472.71" y="377.2" class="dv" font-size="17" text-anchor="middle">12</text>
<text x="507.29" y="377.2" class="dv" font-size="17" text-anchor="middle">18</text>
<text x="541.86" y="377.2" class="dv" font-size="17" text-anchor="middle">sob</text>
<text x="576.43" y="377.2" class="dv" font-size="17" text-anchor="middle">06</text>
<text x="611" y="377.2" class="dv" font-size="17" text-anchor="middle">12</text>
<text x="645.57" y="377.2" class="dv" font-size="17" text-anchor="middle">18</text>
<text x="680.14" y="377.2" class="dv" font-size="17" text-anchor="middle">ned</text>
<text x="714.71" y="377.2" class="dv" font-size="17" text-anchor="middle">06</text>
<text x="749.29" y="377.2" class="dv" font-size="17" text-anchor="middle">12</text>
<text x="783.86" y="377.2" class="dv" font-size="17" text-anchor="middle">18</text>
<text x="818.43" y="377.2" class="dv" font-size="17" text-anchor="middle">pon</text>
<text x="853" y="377.2" class="dv" font-size="17" text-anchor="middle">06</text>
<text x="887.57" y="377.2" class="dv" font-size="17" text-anchor="middle">12</text>
<text x="922.14" y="377.2" class="dv" font-size="17" text-anchor="middle">18</text>
<text x="956.71" y="377.2" class="dv" font-size="17" text-anchor="middle">tor</text>
<text x="991.29" y="377.2" class="dv" font-size="17" text-anchor="middle">06</text>
<text x="1025.86" y="377.2" class="dv" font-size="17" text-anchor="middle">12</text>
<text x="1060.43" y="377.2" class="dv" font-size="17" text-anchor="middle">18</text>
<text x="123.5" y="365.3" class="dv" font-size="17.5" text-anchor="end">0</text>
<text x="123.5" y="327.95" class="dv" font-size="17.5" text-anchor="end">1</text>
<text x="123.5" y="290.6" class="dv" font-size="17.5" text-anchor="end">2</text>
<text x="123.5" y="253.25" class="dv" font-size="17.5" text-anchor="end">3</text>
<text x="123.5" y="215.9" class="dv" font-size="17.5" text-anchor="end">4</text>
<text x="123.5" y="178.55" class="dv" font-size="17.5" text-anchor="end">5</text>
<text x="1099" y="365.3" class="dv" font-size="17.5">0</text>
<text x="1099" y="327.95" class="dv" font-size="17.5">1.5</text>
<text x="1099" y="290.6" class="dv" font-size="17.5">3.5</text>
<text x="1099" y="253.25" class="dv" font-size="17.5">6.0</text>
<text x="1099" y="215.9" class="dv" font-size="17.5">9.0</text>
<text x="1099" y="178.55" class="dv" font-size="17.5">14</text>
<text x="46.5" y="365.3" class="dv" font-size="17.5" fill="#ff0000">-2</text>
<text x="46.5" y="327.95" class="dv" font-size="17.5" fill="#ff0000">2</text>
<text x="46.5" y="290.6" class="dv" font-size="17.5" fill="#ff0000">5</text>
<text x="46.5" y="253.25" class="dv" font-size="17.5" fill="#ff0000">9</text>
<text x="46.5" y="215.9" class="dv" font-size="17.5" fill="#ff0000">12</text>
<text x="46.5" y="178.55" class="dv" font-size="17.5" fill="#ff0000">16</text>
<text transform="translate(100,262.8) rotate(-90)" class="dv" font-size="19" text-anchor="middle">Padavine (mm/h)</text>
<text transform="translate(35,267) rotate(-90)" class="dv" font-size="19" text-anchor="middle" fill="#ff0000">Temperatura (°C)</text>
<text transform="translate(1144.5,254.6) rotate(-90)" class="dv" font-size="19" text-anchor="middle">Višina oblakov (km)</text>
<rect x="127" y="390" width="32" height="11" fill="#0048ff"/>
<rect x="165" y="385.5" width="105" height="20" fill="#ffffff"/>
<text x="168" y="402" class="ls" font-size="19.3">Dež</text>
<rect x="278" y="390" width="32" height="11" fill="#10d8c8"/>
<rect x="310" y="386" width="110" height="20" fill="#ffffff"/>
<text x="318.5" y="401.5" class="ls" font-size="19.3">Možnost ploh</text>
<text x="499" y="401.7" class="ls" font-size="16" fill="#0000ff">© vreme.us &amp; vreme.pro</text>
<rect x="759.5" y="386" width="180.5" height="19.5" fill="#ffffff"/>
<text x="759" y="401.5" class="ls" font-size="19.6">Gostota oblakov (%)</text>
<rect x="949.2" y="385.2" width="29.1" height="13.4" fill="#d3d3d3"/>
<rect x="978.3" y="385.2" width="29.1" height="13.4" fill="#b0b0b0"/>
<rect x="1007.4" y="385.2" width="29.1" height="13.4" fill="#909090"/>
<rect x="1036.5" y="385.2" width="29.1" height="13.4" fill="#707070"/>
<rect x="1065.6" y="385.2" width="29.1" height="13.4" fill="#555555"/>
<rect x="949.7" y="385.7" width="144.5" height="12.4" fill="none" stroke="#222" stroke-width="1"/>
<text x="949.7" y="414.7" class="dv" font-size="15.5" text-anchor="middle">10</text>
<text x="978.8" y="414.7" class="dv" font-size="15.5" text-anchor="middle">25</text>
<text x="1007.9" y="414.7" class="dv" font-size="15.5" text-anchor="middle">50</text>
<text x="1037" y="414.7" class="dv" font-size="15.5" text-anchor="middle">75</text>
<text x="1066.1" y="414.7" class="dv" font-size="15.5" text-anchor="middle">90</text>
<text x="1095.2" y="414.7" class="dv" font-size="15.5" text-anchor="middle">100</text>
</svg>
</body></html>
